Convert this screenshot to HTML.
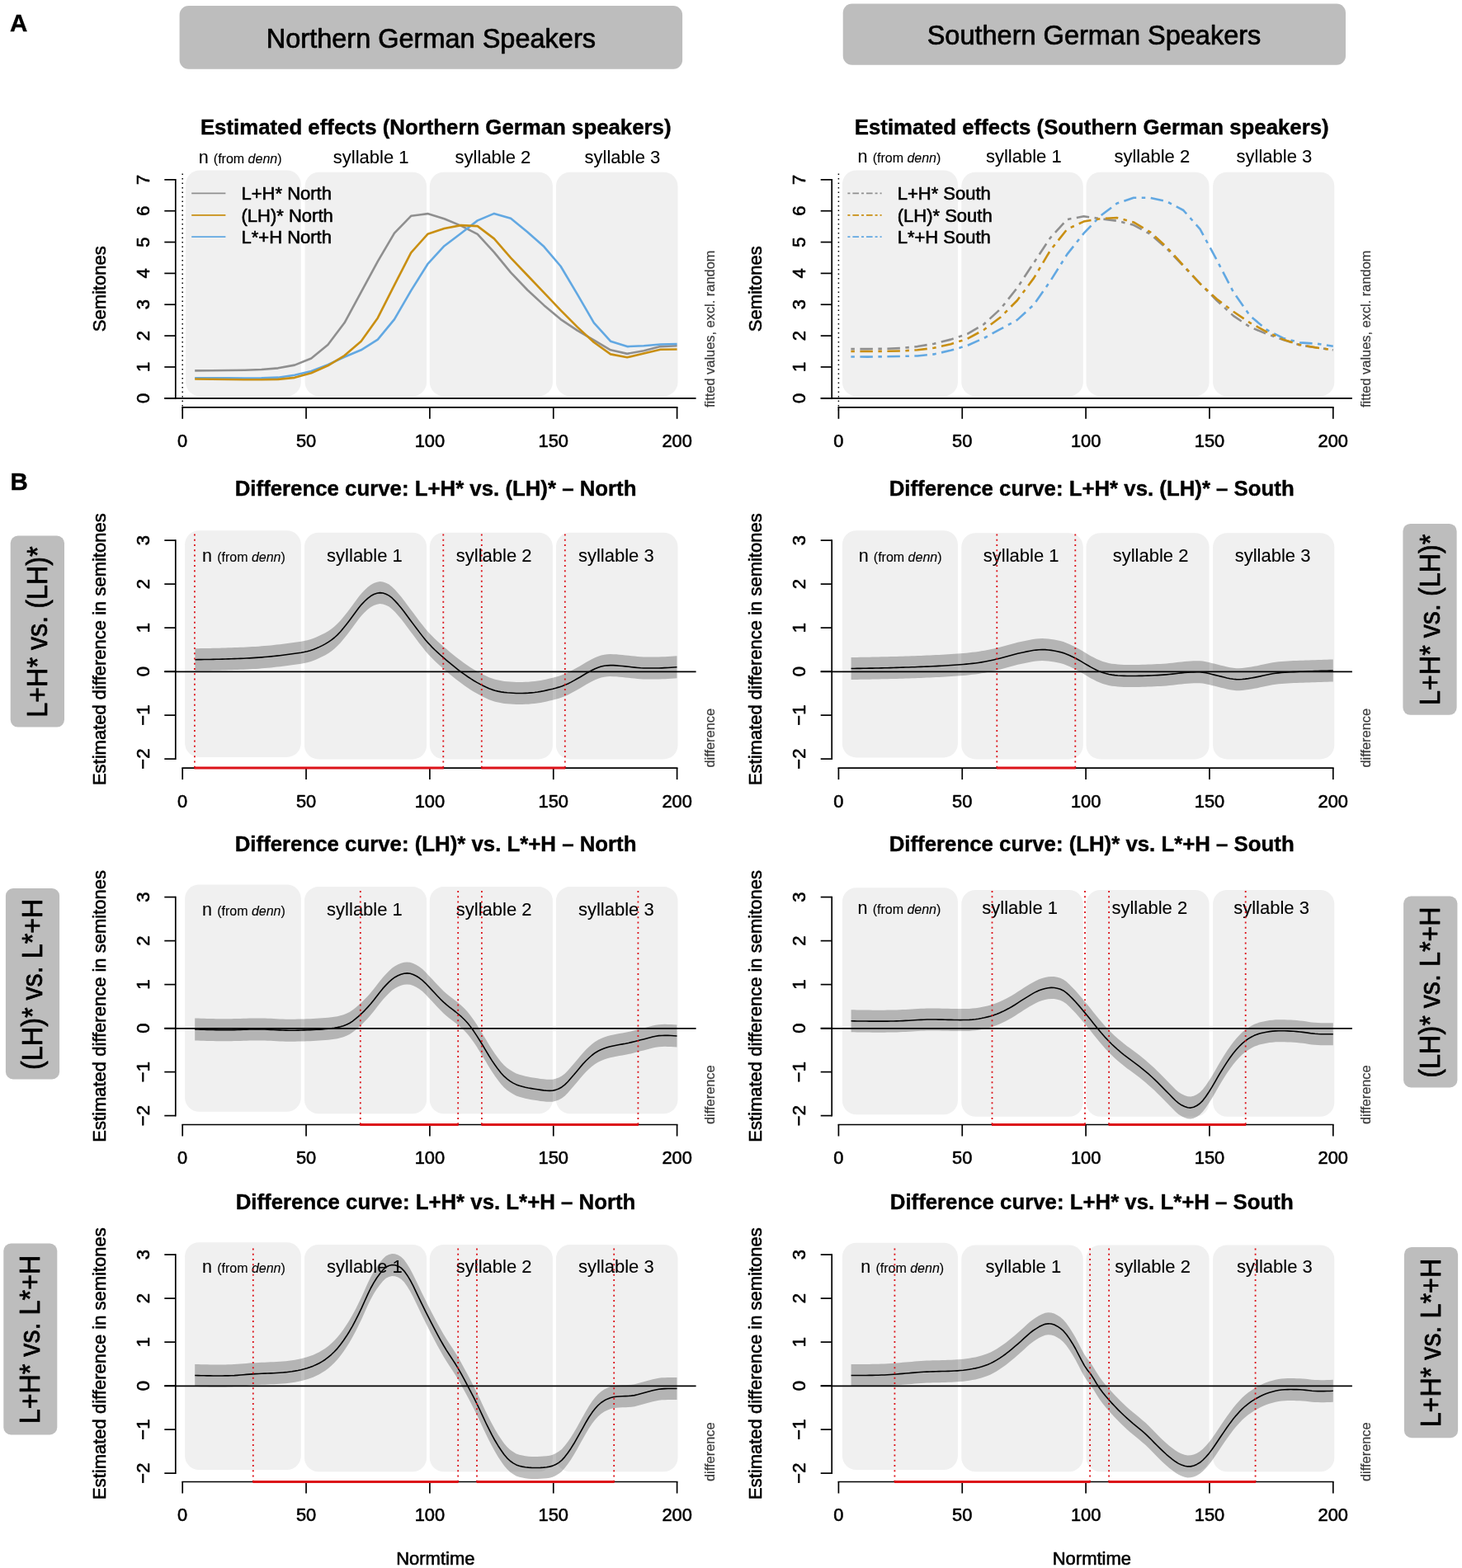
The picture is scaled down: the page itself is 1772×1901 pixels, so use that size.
<!DOCTYPE html>
<html lang="en"><head><meta charset="utf-8"><title>Estimated effects and difference curves</title>
<style>html,body{margin:0;padding:0;background:#fff}body{width:1772px;height:1901px;overflow:hidden}svg{display:block}text{font-family:'Liberation Sans', 'DejaVu Sans', sans-serif;stroke:#000;stroke-width:0.6px;stroke-linejoin:round;paint-order:stroke fill}</style>
</head><body>
<svg width="1772" height="1901" viewBox="0 0 1772 1901" role="img" aria-label="Estimated effects and difference curves for Northern and Southern German speakers">
<rect width="1772" height="1901" fill="#fff"/>
<text transform="translate(11.9 38)" font-size="29.5" text-anchor="start" font-weight="bold" style="stroke-width:0.4px">A</text>
<text transform="translate(12.6 593.5)" font-size="29.5" text-anchor="start" font-weight="bold" style="stroke-width:0.4px">B</text>
<rect x="217.6" y="7.1" width="609.5" height="76.7" rx="11" ry="11" fill="#bdbdbd"/>
<text transform="translate(522.4 57.9)" font-size="32.5" text-anchor="middle" style="stroke-width:0.7px">Northern German Speakers</text>
<rect x="1021.7" y="4.6" width="609.3" height="74.1" rx="11" ry="11" fill="#bdbdbd"/>
<text transform="translate(1326 54.3)" font-size="32.5" text-anchor="middle" style="stroke-width:0.7px">Southern German Speakers</text>
<rect x="225.1" y="206.4" width="139.7" height="273.8" rx="17" ry="17" fill="#f0f0f0"/>
<rect x="369.6" y="208.8" width="147.5" height="271.4" rx="17" ry="17" fill="#f0f0f0"/>
<rect x="520.8" y="208.8" width="149.1" height="271.4" rx="17" ry="17" fill="#f0f0f0"/>
<rect x="673.9" y="208.8" width="147.6" height="271.4" rx="17" ry="17" fill="#f0f0f0"/>
<line x1="221.2" y1="210.5" x2="221.2" y2="497.5" stroke="#000" stroke-width="1.5" stroke-dasharray="1.6 3.9"/>
<polyline points="236.19,449.38 256.34,449.21 276.49,449.04 296.64,448.7 316.79,448.02 336.95,446.33 357.1,442.61 377.25,434.48 397.4,418.06 417.56,391.31 437.71,354.06 457.86,316.82 478.01,282.62 498.16,261.79 518.32,259.09 538.47,265.18 558.62,273.65 578.77,283.8 598.93,305.81 619.08,330.36 639.23,351.52 659.38,370.15 679.53,387.08 699.69,400.62 719.84,412.47 739.99,424.32 760.14,428.89 780.3,425.17 800.45,420.09 820.6,419.24" fill="none" stroke="#8f8f8f" stroke-width="2.6" stroke-linejoin="round"/>
<polyline points="236.19,458.18 256.34,458.18 276.49,458.18 296.64,458.52 316.79,458.35 336.95,457.67 357.1,454.8 377.25,450.06 397.4,442.1 417.56,432.79 437.71,424.32 457.86,411.63 478.01,387.08 498.16,352.37 518.32,320.2 538.47,298.19 558.62,282.96 578.77,267.38 598.93,258.92 619.08,264.84 639.23,281.26 659.38,299.04 679.53,322.74 699.69,356.6 719.84,391.31 739.99,413.66 760.14,420.09 780.3,419.24 800.45,417.55 820.6,417.04" fill="none" stroke="#62a8e2" stroke-width="2.6" stroke-linejoin="round"/>
<polyline points="236.19,459.54 256.34,459.71 276.49,460.05 296.64,460.21 316.79,460.21 336.95,459.88 357.1,457.84 377.25,452.26 397.4,443.28 417.56,431.09 437.71,413.66 457.86,385.38 478.01,345.6 498.16,306.32 518.32,283.8 538.47,277.03 558.62,273.14 578.77,274.15 598.93,289.39 619.08,312.58 639.23,333.75 659.38,354.91 679.53,376.07 699.69,396.39 719.84,415.01 739.99,429.4 760.14,433.3 780.3,428.56 800.45,423.81 820.6,423.48" fill="none" stroke="#c98f12" stroke-width="2.6" stroke-linejoin="round"/>
<line x1="212.8" y1="217" x2="212.8" y2="483.65" stroke="#000" stroke-width="1.7"/>
<line x1="199.3" y1="482.8" x2="212.8" y2="482.8" stroke="#000" stroke-width="1.7"/>
<text transform="translate(180.8 482.8) scale(1.03 1) rotate(-90)" font-size="22" text-anchor="middle">0</text>
<line x1="199.3" y1="444.95" x2="212.8" y2="444.95" stroke="#000" stroke-width="1.7"/>
<text transform="translate(180.8 444.95) scale(1.03 1) rotate(-90)" font-size="22" text-anchor="middle">1</text>
<line x1="199.3" y1="407.1" x2="212.8" y2="407.1" stroke="#000" stroke-width="1.7"/>
<text transform="translate(180.8 407.1) scale(1.03 1) rotate(-90)" font-size="22" text-anchor="middle">2</text>
<line x1="199.3" y1="369.25" x2="212.8" y2="369.25" stroke="#000" stroke-width="1.7"/>
<text transform="translate(180.8 369.25) scale(1.03 1) rotate(-90)" font-size="22" text-anchor="middle">3</text>
<line x1="199.3" y1="331.4" x2="212.8" y2="331.4" stroke="#000" stroke-width="1.7"/>
<text transform="translate(180.8 331.4) scale(1.03 1) rotate(-90)" font-size="22" text-anchor="middle">4</text>
<line x1="199.3" y1="293.55" x2="212.8" y2="293.55" stroke="#000" stroke-width="1.7"/>
<text transform="translate(180.8 293.55) scale(1.03 1) rotate(-90)" font-size="22" text-anchor="middle">5</text>
<line x1="199.3" y1="255.7" x2="212.8" y2="255.7" stroke="#000" stroke-width="1.7"/>
<text transform="translate(180.8 255.7) scale(1.03 1) rotate(-90)" font-size="22" text-anchor="middle">6</text>
<line x1="199.3" y1="217.85" x2="212.8" y2="217.85" stroke="#000" stroke-width="1.7"/>
<text transform="translate(180.8 217.85) scale(1.03 1) rotate(-90)" font-size="22" text-anchor="middle">7</text>
<line x1="199.3" y1="482.95" x2="843.6" y2="482.95" stroke="#000" stroke-width="1.75"/>
<line x1="220.35" y1="493.8" x2="821.45" y2="493.8" stroke="#000" stroke-width="1.7"/>
<line x1="221.2" y1="493.8" x2="221.2" y2="507.8" stroke="#000" stroke-width="1.7"/>
<text transform="translate(221.2 541.7) scale(0.98 1)" font-size="22.3" text-anchor="middle">0</text>
<line x1="371.05" y1="493.8" x2="371.05" y2="507.8" stroke="#000" stroke-width="1.7"/>
<text transform="translate(371.05 541.7) scale(0.98 1)" font-size="22.3" text-anchor="middle">50</text>
<line x1="520.9" y1="493.8" x2="520.9" y2="507.8" stroke="#000" stroke-width="1.7"/>
<text transform="translate(520.9 541.7) scale(0.98 1)" font-size="22.3" text-anchor="middle">100</text>
<line x1="670.75" y1="493.8" x2="670.75" y2="507.8" stroke="#000" stroke-width="1.7"/>
<text transform="translate(670.75 541.7) scale(0.98 1)" font-size="22.3" text-anchor="middle">150</text>
<line x1="820.6" y1="493.8" x2="820.6" y2="507.8" stroke="#000" stroke-width="1.7"/>
<text transform="translate(820.6 541.7) scale(0.98 1)" font-size="22.3" text-anchor="middle">200</text>
<line x1="232.2" y1="234.4" x2="273.4" y2="234.4" stroke="#8f8f8f" stroke-width="1.7"/>
<text transform="translate(292.5 242.3)" font-size="22" text-anchor="start">L+H* North</text>
<line x1="232.2" y1="260.8" x2="273.4" y2="260.8" stroke="#c98f12" stroke-width="1.7"/>
<text transform="translate(292.5 268.7)" font-size="22" text-anchor="start">(LH)* North</text>
<line x1="232.2" y1="287.2" x2="273.4" y2="287.2" stroke="#62a8e2" stroke-width="1.7"/>
<text transform="translate(292.5 295.1)" font-size="22" text-anchor="start">L*+H North</text>
<text transform="translate(528.2 163.4) scale(1.02 1)" font-size="25.3" text-anchor="middle" font-weight="bold" style="stroke-width:0.4px">Estimated effects (Northern German speakers)</text>
<text transform="translate(128.2 350.3) rotate(-90)" font-size="22" text-anchor="middle">Semitones</text>
<text transform="translate(866 494) rotate(-90)" font-size="16.4" text-anchor="start" fill="#3a3a3a" style="stroke:#3a3a3a;stroke-width:0.2px">fitted values, excl. random</text>
<rect x="1020.9" y="206.4" width="140" height="273.8" rx="17" ry="17" fill="#f0f0f0"/>
<rect x="1165.3" y="208.8" width="147.5" height="271.4" rx="17" ry="17" fill="#f0f0f0"/>
<rect x="1316.5" y="208.8" width="149.1" height="271.4" rx="17" ry="17" fill="#f0f0f0"/>
<rect x="1470.1" y="208.8" width="147.2" height="271.4" rx="17" ry="17" fill="#f0f0f0"/>
<line x1="1016.4" y1="210.5" x2="1016.4" y2="497.5" stroke="#000" stroke-width="1.5" stroke-dasharray="1.6 3.9"/>
<polyline points="1031.38,423.14 1051.54,423.14 1071.69,422.8 1091.84,422.12 1111.99,420.09 1132.15,416.7 1152.3,411.63 1172.45,404.85 1192.6,393 1212.76,374.38 1232.91,348.98 1253.06,318.51 1273.21,288.04 1293.36,266.03 1313.52,262.3 1333.67,265.18 1353.82,267.72 1373.97,272.8 1394.13,283.8 1414.28,301.58 1434.43,322.74 1454.58,343.91 1474.73,364.22 1494.89,382.84 1515.04,396.39 1535.19,404.85 1555.34,411.96 1575.5,418.4 1595.65,421.44 1615.8,424.32" fill="none" stroke="#8f8f8f" stroke-width="2.6" stroke-linejoin="round" stroke-dasharray="4.5 6.5 15.5 6.5"/>
<polyline points="1031.38,432.45 1051.54,432.62 1071.69,432.28 1091.84,431.94 1111.99,431.43 1132.15,429.4 1152.3,424.83 1172.45,418.91 1192.6,409.93 1212.76,398.93 1232.91,387.92 1253.06,369.3 1273.21,340.52 1293.36,308.35 1313.52,282.96 1333.67,261.79 1353.82,246.56 1373.97,239.79 1394.13,239.79 1414.28,244.36 1434.43,255.02 1454.58,277.88 1474.73,315.12 1494.89,354.06 1515.04,382.84 1535.19,399.77 1555.34,409.93 1575.5,415.35 1595.65,416.7 1615.8,419.75" fill="none" stroke="#62a8e2" stroke-width="2.6" stroke-linejoin="round" stroke-dasharray="4.5 6.5 15.5 6.5"/>
<polyline points="1031.38,426.02 1051.54,426.02 1071.69,425.85 1091.84,425.51 1111.99,424.32 1132.15,421.78 1152.3,417.21 1172.45,410.78 1192.6,399.77 1212.76,384.54 1232.91,364.22 1253.06,337.13 1273.21,303.27 1293.36,277.88 1313.52,268.57 1333.67,265.18 1353.82,264 1373.97,269.41 1394.13,281.26 1414.28,299.89 1434.43,321.9 1454.58,343.91 1474.73,362.53 1494.89,377.77 1515.04,391.31 1535.19,402.31 1555.34,411.63 1575.5,418.06 1595.65,421.44 1615.8,424.32" fill="none" stroke="#c98f12" stroke-width="2.6" stroke-linejoin="round" stroke-dasharray="4.5 6.5 15.5 6.5"/>
<line x1="1008.2" y1="217" x2="1008.2" y2="483.65" stroke="#000" stroke-width="1.7"/>
<line x1="994.7" y1="482.8" x2="1008.2" y2="482.8" stroke="#000" stroke-width="1.7"/>
<text transform="translate(976 482.8) scale(1.03 1) rotate(-90)" font-size="22" text-anchor="middle">0</text>
<line x1="994.7" y1="444.95" x2="1008.2" y2="444.95" stroke="#000" stroke-width="1.7"/>
<text transform="translate(976 444.95) scale(1.03 1) rotate(-90)" font-size="22" text-anchor="middle">1</text>
<line x1="994.7" y1="407.1" x2="1008.2" y2="407.1" stroke="#000" stroke-width="1.7"/>
<text transform="translate(976 407.1) scale(1.03 1) rotate(-90)" font-size="22" text-anchor="middle">2</text>
<line x1="994.7" y1="369.25" x2="1008.2" y2="369.25" stroke="#000" stroke-width="1.7"/>
<text transform="translate(976 369.25) scale(1.03 1) rotate(-90)" font-size="22" text-anchor="middle">3</text>
<line x1="994.7" y1="331.4" x2="1008.2" y2="331.4" stroke="#000" stroke-width="1.7"/>
<text transform="translate(976 331.4) scale(1.03 1) rotate(-90)" font-size="22" text-anchor="middle">4</text>
<line x1="994.7" y1="293.55" x2="1008.2" y2="293.55" stroke="#000" stroke-width="1.7"/>
<text transform="translate(976 293.55) scale(1.03 1) rotate(-90)" font-size="22" text-anchor="middle">5</text>
<line x1="994.7" y1="255.7" x2="1008.2" y2="255.7" stroke="#000" stroke-width="1.7"/>
<text transform="translate(976 255.7) scale(1.03 1) rotate(-90)" font-size="22" text-anchor="middle">6</text>
<line x1="994.7" y1="217.85" x2="1008.2" y2="217.85" stroke="#000" stroke-width="1.7"/>
<text transform="translate(976 217.85) scale(1.03 1) rotate(-90)" font-size="22" text-anchor="middle">7</text>
<line x1="994.7" y1="482.95" x2="1638.9" y2="482.95" stroke="#000" stroke-width="1.75"/>
<line x1="1015.55" y1="493.8" x2="1616.65" y2="493.8" stroke="#000" stroke-width="1.7"/>
<line x1="1016.4" y1="493.8" x2="1016.4" y2="507.8" stroke="#000" stroke-width="1.7"/>
<text transform="translate(1016.4 541.7) scale(0.98 1)" font-size="22.3" text-anchor="middle">0</text>
<line x1="1166.25" y1="493.8" x2="1166.25" y2="507.8" stroke="#000" stroke-width="1.7"/>
<text transform="translate(1166.25 541.7) scale(0.98 1)" font-size="22.3" text-anchor="middle">50</text>
<line x1="1316.1" y1="493.8" x2="1316.1" y2="507.8" stroke="#000" stroke-width="1.7"/>
<text transform="translate(1316.1 541.7) scale(0.98 1)" font-size="22.3" text-anchor="middle">100</text>
<line x1="1465.95" y1="493.8" x2="1465.95" y2="507.8" stroke="#000" stroke-width="1.7"/>
<text transform="translate(1465.95 541.7) scale(0.98 1)" font-size="22.3" text-anchor="middle">150</text>
<line x1="1615.8" y1="493.8" x2="1615.8" y2="507.8" stroke="#000" stroke-width="1.7"/>
<text transform="translate(1615.8 541.7) scale(0.98 1)" font-size="22.3" text-anchor="middle">200</text>
<line x1="1027.4" y1="234.4" x2="1068.6" y2="234.4" stroke="#8f8f8f" stroke-width="1.7" stroke-dasharray="3 3 7.6 3"/>
<text transform="translate(1087.7 242.3)" font-size="22" text-anchor="start">L+H* South</text>
<line x1="1027.4" y1="260.8" x2="1068.6" y2="260.8" stroke="#c98f12" stroke-width="1.7" stroke-dasharray="3 3 7.6 3"/>
<text transform="translate(1087.7 268.7)" font-size="22" text-anchor="start">(LH)* South</text>
<line x1="1027.4" y1="287.2" x2="1068.6" y2="287.2" stroke="#62a8e2" stroke-width="1.7" stroke-dasharray="3 3 7.6 3"/>
<text transform="translate(1087.7 295.1)" font-size="22" text-anchor="start">L*+H South</text>
<text transform="translate(1323.2 163.4) scale(1.02 1)" font-size="25.3" text-anchor="middle" font-weight="bold" style="stroke-width:0.4px">Estimated effects (Southern German speakers)</text>
<text transform="translate(923.2 350.3) rotate(-90)" font-size="22" text-anchor="middle">Semitones</text>
<text transform="translate(1661.3 494) rotate(-90)" font-size="16.4" text-anchor="start" fill="#3a3a3a" style="stroke:#3a3a3a;stroke-width:0.2px">fitted values, excl. random</text>
<text x="240.7" y="198" font-size="21.5" text-anchor="start" style="stroke-width:0.1px">n <tspan dx="0.2" font-size="16">(from <tspan font-style="italic">denn</tspan>)</tspan></text>
<text transform="translate(403.8 198)" font-size="22" text-anchor="start" style="stroke-width:0.1px">syllable 1</text>
<text transform="translate(551.6 198)" font-size="22" text-anchor="start" style="stroke-width:0.1px">syllable 2</text>
<text transform="translate(708.5 198)" font-size="22" text-anchor="start" style="stroke-width:0.1px">syllable 3</text>
<text x="1039.5" y="196.8" font-size="21.5" text-anchor="start" style="stroke-width:0.1px">n <tspan dx="0.2" font-size="16">(from <tspan font-style="italic">denn</tspan>)</tspan></text>
<text transform="translate(1194.9 196.8)" font-size="22" text-anchor="start" style="stroke-width:0.1px">syllable 1</text>
<text transform="translate(1350.4 196.8)" font-size="22" text-anchor="start" style="stroke-width:0.1px">syllable 2</text>
<text transform="translate(1498.5 196.8)" font-size="22" text-anchor="start" style="stroke-width:0.1px">syllable 3</text>
<rect x="224.1" y="643.3" width="140.7" height="274.6" rx="17" ry="17" fill="#f0f0f0"/>
<rect x="369" y="645.8" width="148.1" height="274.6" rx="17" ry="17" fill="#f0f0f0"/>
<rect x="520.8" y="645.8" width="149.1" height="274.6" rx="17" ry="17" fill="#f0f0f0"/>
<rect x="673.9" y="645.8" width="147.6" height="274.6" rx="17" ry="17" fill="#f0f0f0"/>
<text x="245" y="681.4" font-size="21.5" text-anchor="start" style="stroke-width:0.1px">n <tspan dx="0.2" font-size="16">(from <tspan font-style="italic">denn</tspan>)</tspan></text>
<text transform="translate(396.1 681.4)" font-size="22" text-anchor="start" style="stroke-width:0.1px">syllable 1</text>
<text transform="translate(552.8 681.4)" font-size="22" text-anchor="start" style="stroke-width:0.1px">syllable 2</text>
<text transform="translate(700.9 681.4)" font-size="22" text-anchor="start" style="stroke-width:0.1px">syllable 3</text>
<polygon points="236.4,786.2 240.07,786.16 243.75,786.12 247.42,786.06 251.09,786 254.77,785.93 258.44,785.85 262.12,785.77 265.79,785.68 269.46,785.58 273.14,785.47 276.81,785.36 280.48,785.25 284.16,785.12 287.83,785 291.5,784.85 295.18,784.7 298.85,784.52 302.52,784.33 306.2,784.11 309.87,783.88 313.55,783.63 317.22,783.35 320.89,783.06 324.57,782.74 328.24,782.39 331.91,782.01 335.59,781.6 339.26,781.17 342.93,780.72 346.61,780.26 350.28,779.78 353.95,779.29 357.63,778.8 361.3,778.29 364.98,777.72 368.65,777.04 372.32,776.22 376,775.19 379.67,773.94 383.34,772.49 387.02,770.87 390.69,769.12 394.36,767.15 398.04,764.93 401.71,762.39 405.38,759.5 409.06,756.12 412.73,752.17 416.41,747.79 420.08,743.17 423.75,738.46 427.43,733.52 431.1,728.45 434.77,723.54 438.45,719.08 442.12,715.26 445.79,711.85 449.47,709.02 453.14,706.99 456.82,705.73 460.49,705.12 464.16,705.46 467.84,706.7 471.51,708.59 475.18,711.45 478.86,715.1 482.53,719.15 486.2,723.51 489.88,728.26 493.55,733.22 497.22,738.22 500.9,743.12 504.57,748.02 508.25,752.88 511.92,757.62 515.59,762.15 519.27,766.39 522.94,770.31 526.61,773.96 530.29,777.41 533.96,780.72 537.63,783.94 541.31,787.1 544.98,790.2 548.65,793.21 552.33,796.15 556,799.01 559.68,801.78 563.35,804.46 567.02,807.02 570.7,809.43 574.37,811.7 578.04,813.85 581.72,815.87 585.39,817.75 589.06,819.55 592.74,821.22 596.41,822.62 600.08,823.72 603.76,824.62 607.43,825.34 611.11,825.88 614.78,826.26 618.45,826.55 622.13,826.78 625.8,826.93 629.47,827 633.15,826.97 636.82,826.85 640.49,826.65 644.17,826.36 647.84,826.01 651.52,825.52 655.19,824.9 658.86,824.18 662.54,823.4 666.21,822.58 669.88,821.7 673.56,820.73 677.23,819.64 680.9,818.42 684.58,817.05 688.25,815.44 691.92,813.6 695.6,811.62 699.27,809.57 702.95,807.45 706.62,805.24 710.29,803.05 713.97,800.99 717.64,799.06 721.31,797.24 724.99,795.69 728.66,794.59 732.33,793.83 736.01,793.33 739.68,793.11 743.35,793.15 747.03,793.36 750.7,793.68 754.38,794.04 758.05,794.4 761.72,794.78 765.4,795.19 769.07,795.58 772.74,795.93 776.42,796.23 780.09,796.43 783.76,796.52 787.44,796.56 791.11,796.56 794.78,796.52 798.46,796.44 802.13,796.33 805.81,796.17 809.48,795.99 813.15,795.76 816.83,795.5 820.5,795.2 820.5,822.2 816.83,822.5 813.15,822.76 809.48,822.99 805.81,823.17 802.13,823.33 798.46,823.44 794.78,823.52 791.11,823.56 787.44,823.56 783.76,823.52 780.09,823.43 776.42,823.23 772.74,822.93 769.07,822.58 765.4,822.19 761.72,821.78 758.05,821.4 754.38,821.04 750.7,820.68 747.03,820.36 743.35,820.15 739.68,820.11 736.01,820.33 732.33,820.83 728.66,821.59 724.99,822.69 721.31,824.24 717.64,826.06 713.97,827.99 710.29,830.05 706.62,832.24 702.95,834.45 699.27,836.57 695.6,838.62 691.92,840.6 688.25,842.44 684.58,844.05 680.9,845.42 677.23,846.64 673.56,847.73 669.88,848.7 666.21,849.58 662.54,850.4 658.86,851.18 655.19,851.9 651.52,852.52 647.84,853.01 644.17,853.36 640.49,853.65 636.82,853.85 633.15,853.97 629.47,854 625.8,853.93 622.13,853.78 618.45,853.55 614.78,853.26 611.11,852.88 607.43,852.34 603.76,851.62 600.08,850.72 596.41,849.62 592.74,848.22 589.06,846.55 585.39,844.75 581.72,842.87 578.04,840.85 574.37,838.7 570.7,836.43 567.02,834.02 563.35,831.46 559.68,828.78 556,826.01 552.33,823.15 548.65,820.21 544.98,817.2 541.31,814.1 537.63,810.94 533.96,807.72 530.29,804.41 526.61,800.96 522.94,797.31 519.27,793.39 515.59,789.15 511.92,784.62 508.25,779.88 504.57,775.02 500.9,770.12 497.22,765.22 493.55,760.22 489.88,755.26 486.2,750.51 482.53,746.15 478.86,742.1 475.18,738.45 471.51,735.59 467.84,733.7 464.16,732.46 460.49,732.12 456.82,732.73 453.14,733.99 449.47,736.02 445.79,738.85 442.12,742.26 438.45,746.08 434.77,750.54 431.1,755.45 427.43,760.52 423.75,765.46 420.08,770.17 416.41,774.79 412.73,779.17 409.06,783.12 405.38,786.5 401.71,789.39 398.04,791.93 394.36,794.15 390.69,796.12 387.02,797.87 383.34,799.49 379.67,800.94 376,802.19 372.32,803.22 368.65,804.04 364.98,804.72 361.3,805.29 357.63,805.8 353.95,806.29 350.28,806.78 346.61,807.26 342.93,807.72 339.26,808.17 335.59,808.6 331.91,809.01 328.24,809.39 324.57,809.74 320.89,810.06 317.22,810.35 313.55,810.63 309.87,810.88 306.2,811.11 302.52,811.33 298.85,811.52 295.18,811.7 291.5,811.85 287.83,812 284.16,812.12 280.48,812.25 276.81,812.36 273.14,812.47 269.46,812.58 265.79,812.68 262.12,812.77 258.44,812.85 254.77,812.93 251.09,813 247.42,813.06 243.75,813.12 240.07,813.16 236.4,813.2" fill="#000" fill-opacity="0.25"/>
<polyline points="236.4,799.7 240.07,799.66 243.75,799.62 247.42,799.56 251.09,799.5 254.77,799.43 258.44,799.35 262.12,799.27 265.79,799.18 269.46,799.08 273.14,798.97 276.81,798.86 280.48,798.75 284.16,798.62 287.83,798.5 291.5,798.35 295.18,798.2 298.85,798.02 302.52,797.83 306.2,797.61 309.87,797.38 313.55,797.13 317.22,796.85 320.89,796.56 324.57,796.24 328.24,795.89 331.91,795.51 335.59,795.1 339.26,794.67 342.93,794.22 346.61,793.76 350.28,793.28 353.95,792.79 357.63,792.3 361.3,791.79 364.98,791.22 368.65,790.54 372.32,789.72 376,788.69 379.67,787.44 383.34,785.99 387.02,784.37 390.69,782.62 394.36,780.65 398.04,778.43 401.71,775.89 405.38,773 409.06,769.62 412.73,765.67 416.41,761.29 420.08,756.67 423.75,751.96 427.43,747.02 431.1,741.95 434.77,737.04 438.45,732.58 442.12,728.76 445.79,725.35 449.47,722.52 453.14,720.49 456.82,719.23 460.49,718.62 464.16,718.96 467.84,720.2 471.51,722.09 475.18,724.95 478.86,728.6 482.53,732.65 486.2,737.01 489.88,741.76 493.55,746.72 497.22,751.72 500.9,756.62 504.57,761.52 508.25,766.38 511.92,771.12 515.59,775.65 519.27,779.89 522.94,783.81 526.61,787.46 530.29,790.91 533.96,794.22 537.63,797.44 541.31,800.6 544.98,803.7 548.65,806.71 552.33,809.65 556,812.51 559.68,815.28 563.35,817.96 567.02,820.52 570.7,822.93 574.37,825.2 578.04,827.35 581.72,829.37 585.39,831.25 589.06,833.05 592.74,834.72 596.41,836.12 600.08,837.22 603.76,838.12 607.43,838.84 611.11,839.38 614.78,839.76 618.45,840.05 622.13,840.28 625.8,840.43 629.47,840.5 633.15,840.47 636.82,840.35 640.49,840.15 644.17,839.86 647.84,839.51 651.52,839.02 655.19,838.4 658.86,837.68 662.54,836.9 666.21,836.08 669.88,835.2 673.56,834.23 677.23,833.14 680.9,831.92 684.58,830.55 688.25,828.94 691.92,827.1 695.6,825.12 699.27,823.07 702.95,820.95 706.62,818.74 710.29,816.55 713.97,814.49 717.64,812.56 721.31,810.74 724.99,809.19 728.66,808.09 732.33,807.33 736.01,806.83 739.68,806.61 743.35,806.65 747.03,806.86 750.7,807.18 754.38,807.54 758.05,807.9 761.72,808.28 765.4,808.69 769.07,809.08 772.74,809.43 776.42,809.73 780.09,809.93 783.76,810.02 787.44,810.06 791.11,810.06 794.78,810.02 798.46,809.94 802.13,809.83 805.81,809.67 809.48,809.49 813.15,809.26 816.83,809 820.5,808.7" fill="none" stroke="#000" stroke-width="1.6" stroke-linejoin="round"/>
<line x1="212.8" y1="654.25" x2="212.8" y2="920.95" stroke="#000" stroke-width="1.7"/>
<line x1="199.3" y1="920.1" x2="212.8" y2="920.1" stroke="#000" stroke-width="1.7"/>
<text transform="translate(180.8 920.1) scale(1.03 1) rotate(-90)" font-size="22" text-anchor="middle">−2</text>
<line x1="199.3" y1="867.1" x2="212.8" y2="867.1" stroke="#000" stroke-width="1.7"/>
<text transform="translate(180.8 867.1) scale(1.03 1) rotate(-90)" font-size="22" text-anchor="middle">−1</text>
<line x1="199.3" y1="814.1" x2="212.8" y2="814.1" stroke="#000" stroke-width="1.7"/>
<text transform="translate(180.8 814.1) scale(1.03 1) rotate(-90)" font-size="22" text-anchor="middle">0</text>
<line x1="199.3" y1="761.1" x2="212.8" y2="761.1" stroke="#000" stroke-width="1.7"/>
<text transform="translate(180.8 761.1) scale(1.03 1) rotate(-90)" font-size="22" text-anchor="middle">1</text>
<line x1="199.3" y1="708.1" x2="212.8" y2="708.1" stroke="#000" stroke-width="1.7"/>
<text transform="translate(180.8 708.1) scale(1.03 1) rotate(-90)" font-size="22" text-anchor="middle">2</text>
<line x1="199.3" y1="655.1" x2="212.8" y2="655.1" stroke="#000" stroke-width="1.7"/>
<text transform="translate(180.8 655.1) scale(1.03 1) rotate(-90)" font-size="22" text-anchor="middle">3</text>
<line x1="199.3" y1="814.25" x2="843.6" y2="814.25" stroke="#000" stroke-width="1.75"/>
<line x1="220.35" y1="931.1" x2="821.45" y2="931.1" stroke="#000" stroke-width="1.7"/>
<line x1="221.2" y1="931.1" x2="221.2" y2="945.1" stroke="#000" stroke-width="1.7"/>
<text transform="translate(221.2 979) scale(0.98 1)" font-size="22.3" text-anchor="middle">0</text>
<line x1="371.05" y1="931.1" x2="371.05" y2="945.1" stroke="#000" stroke-width="1.7"/>
<text transform="translate(371.05 979) scale(0.98 1)" font-size="22.3" text-anchor="middle">50</text>
<line x1="520.9" y1="931.1" x2="520.9" y2="945.1" stroke="#000" stroke-width="1.7"/>
<text transform="translate(520.9 979) scale(0.98 1)" font-size="22.3" text-anchor="middle">100</text>
<line x1="670.75" y1="931.1" x2="670.75" y2="945.1" stroke="#000" stroke-width="1.7"/>
<text transform="translate(670.75 979) scale(0.98 1)" font-size="22.3" text-anchor="middle">150</text>
<line x1="820.6" y1="931.1" x2="820.6" y2="945.1" stroke="#000" stroke-width="1.7"/>
<text transform="translate(820.6 979) scale(0.98 1)" font-size="22.3" text-anchor="middle">200</text>
<line x1="235.9" y1="647.6" x2="235.9" y2="931.1" stroke="#dc1219" stroke-width="1.8" stroke-dasharray="1.9 4.35"/>
<line x1="537.3" y1="647.6" x2="537.3" y2="931.1" stroke="#dc1219" stroke-width="1.8" stroke-dasharray="1.9 4.35"/>
<line x1="235.4" y1="931.1" x2="537.8" y2="931.1" stroke="#dc1219" stroke-width="3"/>
<line x1="583.8" y1="647.6" x2="583.8" y2="931.1" stroke="#dc1219" stroke-width="1.8" stroke-dasharray="1.9 4.35"/>
<line x1="684.8" y1="647.6" x2="684.8" y2="931.1" stroke="#dc1219" stroke-width="1.8" stroke-dasharray="1.9 4.35"/>
<line x1="583.3" y1="931.1" x2="685.3" y2="931.1" stroke="#dc1219" stroke-width="3"/>
<text transform="translate(528.1 600.6) scale(1.02 1)" font-size="25.3" text-anchor="middle" font-weight="bold" style="stroke-width:0.4px">Difference curve: L+H* vs. (LH)* – North</text>
<text transform="translate(128.2 787.2) rotate(-90)" font-size="22" text-anchor="middle">Estimated difference in semitones</text>
<text transform="translate(866 930.6) rotate(-90)" font-size="16.4" text-anchor="start" fill="#3a3a3a" style="stroke:#3a3a3a;stroke-width:0.2px">difference</text>
<rect x="12.7" y="649.6" width="65.3" height="232" rx="9" ry="9" fill="#bdbdbd"/>
<text transform="translate(56.95 766.1) scale(1.08 1) rotate(-90)" font-size="32.3" text-anchor="middle" style="stroke-width:0.7px">L+H* vs. (LH)*</text>
<rect x="1020.9" y="643.3" width="140" height="275.1" rx="17" ry="17" fill="#f0f0f0"/>
<rect x="1165.3" y="646.3" width="147.5" height="274.1" rx="17" ry="17" fill="#f0f0f0"/>
<rect x="1316.5" y="646.3" width="149.1" height="274.1" rx="17" ry="17" fill="#f0f0f0"/>
<rect x="1470.1" y="646.3" width="147.2" height="274.1" rx="17" ry="17" fill="#f0f0f0"/>
<text x="1040.7" y="680.7" font-size="21.5" text-anchor="start" style="stroke-width:0.1px">n <tspan dx="0.2" font-size="16">(from <tspan font-style="italic">denn</tspan>)</tspan></text>
<text transform="translate(1191.8 680.7)" font-size="22" text-anchor="start" style="stroke-width:0.1px">syllable 1</text>
<text transform="translate(1348.7 680.7)" font-size="22" text-anchor="start" style="stroke-width:0.1px">syllable 2</text>
<text transform="translate(1496.7 680.7)" font-size="22" text-anchor="start" style="stroke-width:0.1px">syllable 3</text>
<polygon points="1031.6,797 1035.27,796.95 1038.95,796.9 1042.62,796.85 1046.3,796.79 1049.97,796.73 1053.65,796.66 1057.32,796.59 1060.99,796.51 1064.67,796.44 1068.34,796.35 1072.02,796.27 1075.69,796.18 1079.36,796.08 1083.04,795.98 1086.71,795.88 1090.39,795.78 1094.06,795.67 1097.74,795.55 1101.41,795.44 1105.08,795.32 1108.76,795.19 1112.43,795.06 1116.11,794.92 1119.78,794.78 1123.46,794.62 1127.13,794.46 1130.8,794.28 1134.48,794.1 1138.15,793.91 1141.83,793.7 1145.5,793.49 1149.17,793.27 1152.85,793.04 1156.52,792.79 1160.2,792.54 1163.87,792.26 1167.55,791.96 1171.22,791.64 1174.89,791.27 1178.57,790.87 1182.24,790.43 1185.92,789.93 1189.59,789.35 1193.27,788.71 1196.94,787.99 1200.61,787.23 1204.29,786.42 1207.96,785.58 1211.64,784.69 1215.31,783.73 1218.98,782.72 1222.66,781.7 1226.33,780.69 1230.01,779.72 1233.68,778.81 1237.36,777.99 1241.03,777.18 1244.7,776.4 1248.38,775.69 1252.05,775.07 1255.73,774.58 1259.4,774.25 1263.08,774.1 1266.75,774.17 1270.42,774.43 1274.1,774.88 1277.77,775.49 1281.45,776.23 1285.12,777.1 1288.79,778.12 1292.47,779.43 1296.14,780.97 1299.82,782.68 1303.49,784.5 1307.17,786.48 1310.84,788.62 1314.51,790.84 1318.19,793.04 1321.86,795.13 1325.54,797.1 1329.21,798.97 1332.89,800.61 1336.56,801.94 1340.23,803.06 1343.91,803.97 1347.58,804.63 1351.26,805.11 1354.93,805.48 1358.61,805.75 1362.28,805.89 1365.95,805.95 1369.63,805.98 1373.3,805.98 1376.98,805.96 1380.65,805.91 1384.32,805.83 1388,805.73 1391.67,805.61 1395.35,805.46 1399.02,805.29 1402.7,805.1 1406.37,804.89 1410.04,804.66 1413.72,804.38 1417.39,804.03 1421.07,803.63 1424.74,803.2 1428.42,802.78 1432.09,802.38 1435.76,802.04 1439.44,801.76 1443.11,801.51 1446.79,801.33 1450.46,801.25 1454.13,801.3 1457.81,801.62 1461.48,802.23 1465.16,803.03 1468.83,803.93 1472.51,804.85 1476.18,805.72 1479.85,806.64 1483.53,807.57 1487.2,808.45 1490.88,809.22 1494.55,809.8 1498.23,810.14 1501.9,810.19 1505.57,810 1509.25,809.62 1512.92,809.11 1516.6,808.51 1520.27,807.87 1523.94,807.16 1527.62,806.37 1531.29,805.53 1534.97,804.71 1538.64,803.93 1542.32,803.26 1545.99,802.74 1549.66,802.33 1553.34,801.99 1557.01,801.7 1560.69,801.47 1564.36,801.27 1568.04,801.1 1571.71,800.95 1575.38,800.82 1579.06,800.69 1582.73,800.55 1586.41,800.42 1590.08,800.29 1593.75,800.16 1597.43,800.04 1601.1,799.92 1604.78,799.8 1608.45,799.7 1612.13,799.59 1615.8,799.5 1615.8,826.5 1612.13,826.59 1608.45,826.7 1604.78,826.8 1601.1,826.92 1597.43,827.04 1593.75,827.16 1590.08,827.29 1586.41,827.42 1582.73,827.55 1579.06,827.69 1575.38,827.82 1571.71,827.95 1568.04,828.1 1564.36,828.27 1560.69,828.47 1557.01,828.7 1553.34,828.99 1549.66,829.33 1545.99,829.74 1542.32,830.26 1538.64,830.93 1534.97,831.71 1531.29,832.53 1527.62,833.37 1523.94,834.16 1520.27,834.87 1516.6,835.51 1512.92,836.11 1509.25,836.62 1505.57,837 1501.9,837.19 1498.23,837.14 1494.55,836.8 1490.88,836.22 1487.2,835.45 1483.53,834.57 1479.85,833.64 1476.18,832.72 1472.51,831.85 1468.83,830.93 1465.16,830.03 1461.48,829.23 1457.81,828.62 1454.13,828.3 1450.46,828.25 1446.79,828.33 1443.11,828.51 1439.44,828.76 1435.76,829.04 1432.09,829.38 1428.42,829.78 1424.74,830.2 1421.07,830.63 1417.39,831.03 1413.72,831.38 1410.04,831.66 1406.37,831.89 1402.7,832.1 1399.02,832.29 1395.35,832.46 1391.67,832.61 1388,832.73 1384.32,832.83 1380.65,832.91 1376.98,832.96 1373.3,832.98 1369.63,832.98 1365.95,832.95 1362.28,832.89 1358.61,832.75 1354.93,832.48 1351.26,832.11 1347.58,831.63 1343.91,830.97 1340.23,830.06 1336.56,828.94 1332.89,827.61 1329.21,825.97 1325.54,824.1 1321.86,822.13 1318.19,820.04 1314.51,817.84 1310.84,815.62 1307.17,813.48 1303.49,811.5 1299.82,809.68 1296.14,807.97 1292.47,806.43 1288.79,805.12 1285.12,804.1 1281.45,803.23 1277.77,802.49 1274.1,801.88 1270.42,801.43 1266.75,801.17 1263.08,801.1 1259.4,801.25 1255.73,801.58 1252.05,802.07 1248.38,802.69 1244.7,803.4 1241.03,804.18 1237.36,804.99 1233.68,805.81 1230.01,806.72 1226.33,807.69 1222.66,808.7 1218.98,809.72 1215.31,810.73 1211.64,811.69 1207.96,812.58 1204.29,813.42 1200.61,814.23 1196.94,814.99 1193.27,815.71 1189.59,816.35 1185.92,816.93 1182.24,817.43 1178.57,817.87 1174.89,818.27 1171.22,818.64 1167.55,818.96 1163.87,819.26 1160.2,819.54 1156.52,819.79 1152.85,820.04 1149.17,820.27 1145.5,820.49 1141.83,820.7 1138.15,820.91 1134.48,821.1 1130.8,821.28 1127.13,821.46 1123.46,821.62 1119.78,821.78 1116.11,821.92 1112.43,822.06 1108.76,822.19 1105.08,822.32 1101.41,822.44 1097.74,822.55 1094.06,822.67 1090.39,822.78 1086.71,822.88 1083.04,822.98 1079.36,823.08 1075.69,823.18 1072.02,823.27 1068.34,823.35 1064.67,823.44 1060.99,823.51 1057.32,823.59 1053.65,823.66 1049.97,823.73 1046.3,823.79 1042.62,823.85 1038.95,823.9 1035.27,823.95 1031.6,824" fill="#000" fill-opacity="0.25"/>
<polyline points="1031.6,810.5 1035.27,810.45 1038.95,810.4 1042.62,810.35 1046.3,810.29 1049.97,810.23 1053.65,810.16 1057.32,810.09 1060.99,810.01 1064.67,809.94 1068.34,809.85 1072.02,809.77 1075.69,809.68 1079.36,809.58 1083.04,809.48 1086.71,809.38 1090.39,809.28 1094.06,809.17 1097.74,809.05 1101.41,808.94 1105.08,808.82 1108.76,808.69 1112.43,808.56 1116.11,808.42 1119.78,808.28 1123.46,808.12 1127.13,807.96 1130.8,807.78 1134.48,807.6 1138.15,807.41 1141.83,807.2 1145.5,806.99 1149.17,806.77 1152.85,806.54 1156.52,806.29 1160.2,806.04 1163.87,805.76 1167.55,805.46 1171.22,805.14 1174.89,804.77 1178.57,804.37 1182.24,803.93 1185.92,803.43 1189.59,802.85 1193.27,802.21 1196.94,801.49 1200.61,800.73 1204.29,799.92 1207.96,799.08 1211.64,798.19 1215.31,797.23 1218.98,796.22 1222.66,795.2 1226.33,794.19 1230.01,793.22 1233.68,792.31 1237.36,791.49 1241.03,790.68 1244.7,789.9 1248.38,789.19 1252.05,788.57 1255.73,788.08 1259.4,787.75 1263.08,787.6 1266.75,787.67 1270.42,787.93 1274.1,788.38 1277.77,788.99 1281.45,789.73 1285.12,790.6 1288.79,791.62 1292.47,792.93 1296.14,794.47 1299.82,796.18 1303.49,798 1307.17,799.98 1310.84,802.12 1314.51,804.34 1318.19,806.54 1321.86,808.63 1325.54,810.6 1329.21,812.47 1332.89,814.11 1336.56,815.44 1340.23,816.56 1343.91,817.47 1347.58,818.13 1351.26,818.61 1354.93,818.98 1358.61,819.25 1362.28,819.39 1365.95,819.45 1369.63,819.48 1373.3,819.48 1376.98,819.46 1380.65,819.41 1384.32,819.33 1388,819.23 1391.67,819.11 1395.35,818.96 1399.02,818.79 1402.7,818.6 1406.37,818.39 1410.04,818.16 1413.72,817.88 1417.39,817.53 1421.07,817.13 1424.74,816.7 1428.42,816.28 1432.09,815.88 1435.76,815.54 1439.44,815.26 1443.11,815.01 1446.79,814.83 1450.46,814.75 1454.13,814.8 1457.81,815.12 1461.48,815.73 1465.16,816.53 1468.83,817.43 1472.51,818.35 1476.18,819.22 1479.85,820.14 1483.53,821.07 1487.2,821.95 1490.88,822.72 1494.55,823.3 1498.23,823.64 1501.9,823.69 1505.57,823.5 1509.25,823.12 1512.92,822.61 1516.6,822.01 1520.27,821.37 1523.94,820.66 1527.62,819.87 1531.29,819.03 1534.97,818.21 1538.64,817.43 1542.32,816.76 1545.99,816.24 1549.66,815.83 1553.34,815.49 1557.01,815.2 1560.69,814.97 1564.36,814.77 1568.04,814.6 1571.71,814.45 1575.38,814.32 1579.06,814.19 1582.73,814.05 1586.41,813.92 1590.08,813.79 1593.75,813.66 1597.43,813.54 1601.1,813.42 1604.78,813.3 1608.45,813.2 1612.13,813.09 1615.8,813" fill="none" stroke="#000" stroke-width="1.6" stroke-linejoin="round"/>
<line x1="1008.2" y1="654.25" x2="1008.2" y2="920.95" stroke="#000" stroke-width="1.7"/>
<line x1="994.7" y1="920.1" x2="1008.2" y2="920.1" stroke="#000" stroke-width="1.7"/>
<text transform="translate(976 920.1) scale(1.03 1) rotate(-90)" font-size="22" text-anchor="middle">−2</text>
<line x1="994.7" y1="867.1" x2="1008.2" y2="867.1" stroke="#000" stroke-width="1.7"/>
<text transform="translate(976 867.1) scale(1.03 1) rotate(-90)" font-size="22" text-anchor="middle">−1</text>
<line x1="994.7" y1="814.1" x2="1008.2" y2="814.1" stroke="#000" stroke-width="1.7"/>
<text transform="translate(976 814.1) scale(1.03 1) rotate(-90)" font-size="22" text-anchor="middle">0</text>
<line x1="994.7" y1="761.1" x2="1008.2" y2="761.1" stroke="#000" stroke-width="1.7"/>
<text transform="translate(976 761.1) scale(1.03 1) rotate(-90)" font-size="22" text-anchor="middle">1</text>
<line x1="994.7" y1="708.1" x2="1008.2" y2="708.1" stroke="#000" stroke-width="1.7"/>
<text transform="translate(976 708.1) scale(1.03 1) rotate(-90)" font-size="22" text-anchor="middle">2</text>
<line x1="994.7" y1="655.1" x2="1008.2" y2="655.1" stroke="#000" stroke-width="1.7"/>
<text transform="translate(976 655.1) scale(1.03 1) rotate(-90)" font-size="22" text-anchor="middle">3</text>
<line x1="994.7" y1="814.25" x2="1638.9" y2="814.25" stroke="#000" stroke-width="1.75"/>
<line x1="1015.55" y1="931.1" x2="1616.65" y2="931.1" stroke="#000" stroke-width="1.7"/>
<line x1="1016.4" y1="931.1" x2="1016.4" y2="945.1" stroke="#000" stroke-width="1.7"/>
<text transform="translate(1016.4 979) scale(0.98 1)" font-size="22.3" text-anchor="middle">0</text>
<line x1="1166.25" y1="931.1" x2="1166.25" y2="945.1" stroke="#000" stroke-width="1.7"/>
<text transform="translate(1166.25 979) scale(0.98 1)" font-size="22.3" text-anchor="middle">50</text>
<line x1="1316.1" y1="931.1" x2="1316.1" y2="945.1" stroke="#000" stroke-width="1.7"/>
<text transform="translate(1316.1 979) scale(0.98 1)" font-size="22.3" text-anchor="middle">100</text>
<line x1="1465.95" y1="931.1" x2="1465.95" y2="945.1" stroke="#000" stroke-width="1.7"/>
<text transform="translate(1465.95 979) scale(0.98 1)" font-size="22.3" text-anchor="middle">150</text>
<line x1="1615.8" y1="931.1" x2="1615.8" y2="945.1" stroke="#000" stroke-width="1.7"/>
<text transform="translate(1615.8 979) scale(0.98 1)" font-size="22.3" text-anchor="middle">200</text>
<line x1="1208.3" y1="647.6" x2="1208.3" y2="931.1" stroke="#dc1219" stroke-width="1.8" stroke-dasharray="1.9 4.35"/>
<line x1="1303.3" y1="647.6" x2="1303.3" y2="931.1" stroke="#dc1219" stroke-width="1.8" stroke-dasharray="1.9 4.35"/>
<line x1="1207.8" y1="931.1" x2="1303.8" y2="931.1" stroke="#dc1219" stroke-width="3"/>
<text transform="translate(1323.2 600.6) scale(1.02 1)" font-size="25.3" text-anchor="middle" font-weight="bold" style="stroke-width:0.4px">Difference curve: L+H* vs. (LH)* – South</text>
<text transform="translate(923.2 787.2) rotate(-90)" font-size="22" text-anchor="middle">Estimated difference in semitones</text>
<text transform="translate(1661.3 930.6) rotate(-90)" font-size="16.4" text-anchor="start" fill="#3a3a3a" style="stroke:#3a3a3a;stroke-width:0.2px">difference</text>
<rect x="1700.4" y="634.9" width="65.2" height="231.9" rx="9" ry="9" fill="#bdbdbd"/>
<text transform="translate(1744.6 751.35) scale(1.08 1) rotate(-90)" font-size="32.3" text-anchor="middle" style="stroke-width:0.7px">L+H* vs. (LH)*</text>
<rect x="224.1" y="1072.5" width="140.7" height="275.2" rx="17" ry="17" fill="#f0f0f0"/>
<rect x="369" y="1075.1" width="148.1" height="275.2" rx="17" ry="17" fill="#f0f0f0"/>
<rect x="520.8" y="1075.1" width="149.1" height="275.2" rx="17" ry="17" fill="#f0f0f0"/>
<rect x="673.9" y="1075.1" width="147.6" height="275.2" rx="17" ry="17" fill="#f0f0f0"/>
<text x="245" y="1110.2" font-size="21.5" text-anchor="start" style="stroke-width:0.1px">n <tspan dx="0.2" font-size="16">(from <tspan font-style="italic">denn</tspan>)</tspan></text>
<text transform="translate(396.1 1110.2)" font-size="22" text-anchor="start" style="stroke-width:0.1px">syllable 1</text>
<text transform="translate(552.8 1110.2)" font-size="22" text-anchor="start" style="stroke-width:0.1px">syllable 2</text>
<text transform="translate(700.9 1110.2)" font-size="22" text-anchor="start" style="stroke-width:0.1px">syllable 3</text>
<polygon points="236.2,1234.4 239.87,1234.54 243.55,1234.67 247.22,1234.79 250.9,1234.9 254.57,1234.99 258.25,1235.07 261.92,1235.14 265.6,1235.19 269.27,1235.22 272.95,1235.23 276.62,1235.22 280.3,1235.19 283.97,1235.12 287.65,1235.03 291.32,1234.91 295,1234.78 298.67,1234.65 302.35,1234.54 306.02,1234.45 309.7,1234.41 313.37,1234.41 317.05,1234.46 320.72,1234.57 324.4,1234.71 328.07,1234.87 331.75,1235.05 335.42,1235.23 339.1,1235.39 342.77,1235.53 346.45,1235.64 350.12,1235.7 353.79,1235.71 357.47,1235.68 361.14,1235.62 364.82,1235.53 368.49,1235.41 372.17,1235.28 375.84,1235.13 379.52,1234.96 383.19,1234.79 386.87,1234.58 390.54,1234.33 394.22,1234.03 397.89,1233.67 401.57,1233.25 405.24,1232.76 408.92,1232.15 412.59,1231.31 416.27,1230.21 419.94,1228.8 423.62,1226.99 427.29,1224.59 430.97,1221.71 434.64,1218.54 438.32,1215.2 441.99,1211.57 445.67,1207.64 449.34,1203.47 453.02,1198.99 456.69,1194.19 460.37,1189.39 464.04,1184.9 467.72,1180.89 471.39,1177.14 475.06,1173.84 478.74,1171.18 482.41,1169.29 486.09,1167.81 489.76,1166.81 493.44,1166.39 497.11,1166.75 500.79,1167.94 504.46,1169.77 508.14,1172.03 511.81,1174.82 515.49,1178.3 519.16,1182.15 522.84,1186.1 526.51,1189.99 530.19,1193.94 533.86,1197.81 537.54,1201.44 541.21,1204.7 544.89,1207.64 548.56,1210.43 552.24,1213.25 555.91,1216.25 559.59,1219.46 563.26,1222.97 566.94,1226.96 570.61,1231.63 574.29,1236.83 577.96,1242.37 581.64,1248.21 585.31,1254.18 588.98,1260.35 592.66,1266.51 596.33,1272.35 600.01,1277.75 603.68,1282.85 607.36,1287.48 611.03,1291.45 614.71,1294.65 618.38,1297.35 622.06,1299.6 625.73,1301.39 629.41,1302.75 633.08,1303.84 636.76,1304.75 640.43,1305.5 644.11,1306.16 647.78,1306.75 651.46,1307.33 655.13,1307.89 658.81,1308.37 662.48,1308.71 666.16,1308.85 669.83,1308.68 673.51,1307.87 677.18,1306.43 680.86,1304.45 684.53,1301.67 688.21,1297.96 691.88,1293.8 695.56,1289.57 699.23,1285.14 702.91,1280.65 706.58,1276.38 710.25,1272.54 713.93,1268.99 717.6,1265.75 721.28,1262.97 724.95,1260.75 728.63,1258.97 732.3,1257.5 735.98,1256.28 739.65,1255.27 743.33,1254.41 747,1253.68 750.68,1253.03 754.35,1252.41 758.03,1251.75 761.7,1251 765.38,1250.15 769.05,1249.25 772.73,1248.3 776.4,1247.35 780.08,1246.41 783.75,1245.43 787.43,1244.42 791.1,1243.47 794.78,1242.68 798.45,1242.15 802.13,1241.93 805.8,1241.86 809.48,1241.9 813.15,1242.03 816.83,1242.23 820.5,1242.5 820.5,1269.5 816.83,1269.23 813.15,1269.03 809.48,1268.9 805.8,1268.86 802.13,1268.93 798.45,1269.15 794.78,1269.68 791.1,1270.47 787.43,1271.42 783.75,1272.43 780.08,1273.41 776.4,1274.35 772.73,1275.3 769.05,1276.25 765.38,1277.15 761.7,1278 758.03,1278.75 754.35,1279.41 750.68,1280.03 747,1280.68 743.33,1281.41 739.65,1282.27 735.98,1283.28 732.3,1284.5 728.63,1285.97 724.95,1287.75 721.28,1289.97 717.6,1292.75 713.93,1295.99 710.25,1299.54 706.58,1303.38 702.91,1307.65 699.23,1312.14 695.56,1316.57 691.88,1320.8 688.21,1324.96 684.53,1328.67 680.86,1331.45 677.18,1333.43 673.51,1334.87 669.83,1335.68 666.16,1335.85 662.48,1335.71 658.81,1335.37 655.13,1334.89 651.46,1334.33 647.78,1333.75 644.11,1333.16 640.43,1332.5 636.76,1331.75 633.08,1330.84 629.41,1329.75 625.73,1328.39 622.06,1326.6 618.38,1324.35 614.71,1321.65 611.03,1318.45 607.36,1314.48 603.68,1309.85 600.01,1304.75 596.33,1299.35 592.66,1293.51 588.98,1287.35 585.31,1281.18 581.64,1275.21 577.96,1269.37 574.29,1263.83 570.61,1258.63 566.94,1253.96 563.26,1249.97 559.59,1246.46 555.91,1243.25 552.24,1240.25 548.56,1237.43 544.89,1234.64 541.21,1231.7 537.54,1228.44 533.86,1224.81 530.19,1220.94 526.51,1216.99 522.84,1213.1 519.16,1209.15 515.49,1205.3 511.81,1201.82 508.14,1199.03 504.46,1196.77 500.79,1194.94 497.11,1193.75 493.44,1193.39 489.76,1193.81 486.09,1194.81 482.41,1196.29 478.74,1198.18 475.06,1200.84 471.39,1204.14 467.72,1207.89 464.04,1211.9 460.37,1216.39 456.69,1221.19 453.02,1225.99 449.34,1230.47 445.67,1234.64 441.99,1238.57 438.32,1242.2 434.64,1245.54 430.97,1248.71 427.29,1251.59 423.62,1253.99 419.94,1255.8 416.27,1257.21 412.59,1258.31 408.92,1259.15 405.24,1259.76 401.57,1260.25 397.89,1260.67 394.22,1261.03 390.54,1261.33 386.87,1261.58 383.19,1261.79 379.52,1261.96 375.84,1262.13 372.17,1262.28 368.49,1262.41 364.82,1262.53 361.14,1262.62 357.47,1262.68 353.79,1262.71 350.12,1262.7 346.45,1262.64 342.77,1262.53 339.1,1262.39 335.42,1262.23 331.75,1262.05 328.07,1261.87 324.4,1261.71 320.72,1261.57 317.05,1261.46 313.37,1261.41 309.7,1261.41 306.02,1261.45 302.35,1261.54 298.67,1261.65 295,1261.78 291.32,1261.91 287.65,1262.03 283.97,1262.12 280.3,1262.19 276.62,1262.22 272.95,1262.23 269.27,1262.22 265.6,1262.19 261.92,1262.14 258.25,1262.07 254.57,1261.99 250.9,1261.9 247.22,1261.79 243.55,1261.67 239.87,1261.54 236.2,1261.4" fill="#000" fill-opacity="0.25"/>
<polyline points="236.2,1247.9 239.87,1248.04 243.55,1248.17 247.22,1248.29 250.9,1248.4 254.57,1248.49 258.25,1248.57 261.92,1248.64 265.6,1248.69 269.27,1248.72 272.95,1248.73 276.62,1248.72 280.3,1248.69 283.97,1248.62 287.65,1248.53 291.32,1248.41 295,1248.28 298.67,1248.15 302.35,1248.04 306.02,1247.95 309.7,1247.91 313.37,1247.91 317.05,1247.96 320.72,1248.07 324.4,1248.21 328.07,1248.37 331.75,1248.55 335.42,1248.73 339.1,1248.89 342.77,1249.03 346.45,1249.14 350.12,1249.2 353.79,1249.21 357.47,1249.18 361.14,1249.12 364.82,1249.03 368.49,1248.91 372.17,1248.78 375.84,1248.63 379.52,1248.46 383.19,1248.29 386.87,1248.08 390.54,1247.83 394.22,1247.53 397.89,1247.17 401.57,1246.75 405.24,1246.26 408.92,1245.65 412.59,1244.81 416.27,1243.71 419.94,1242.3 423.62,1240.49 427.29,1238.09 430.97,1235.21 434.64,1232.04 438.32,1228.7 441.99,1225.07 445.67,1221.14 449.34,1216.97 453.02,1212.49 456.69,1207.69 460.37,1202.89 464.04,1198.4 467.72,1194.39 471.39,1190.64 475.06,1187.34 478.74,1184.68 482.41,1182.79 486.09,1181.31 489.76,1180.31 493.44,1179.89 497.11,1180.25 500.79,1181.44 504.46,1183.27 508.14,1185.53 511.81,1188.32 515.49,1191.8 519.16,1195.65 522.84,1199.6 526.51,1203.49 530.19,1207.44 533.86,1211.31 537.54,1214.94 541.21,1218.2 544.89,1221.14 548.56,1223.93 552.24,1226.75 555.91,1229.75 559.59,1232.96 563.26,1236.47 566.94,1240.46 570.61,1245.13 574.29,1250.33 577.96,1255.87 581.64,1261.71 585.31,1267.68 588.98,1273.85 592.66,1280.01 596.33,1285.85 600.01,1291.25 603.68,1296.35 607.36,1300.98 611.03,1304.95 614.71,1308.15 618.38,1310.85 622.06,1313.1 625.73,1314.89 629.41,1316.25 633.08,1317.34 636.76,1318.25 640.43,1319 644.11,1319.66 647.78,1320.25 651.46,1320.83 655.13,1321.39 658.81,1321.87 662.48,1322.21 666.16,1322.35 669.83,1322.18 673.51,1321.37 677.18,1319.93 680.86,1317.95 684.53,1315.17 688.21,1311.46 691.88,1307.3 695.56,1303.07 699.23,1298.64 702.91,1294.15 706.58,1289.88 710.25,1286.04 713.93,1282.49 717.6,1279.25 721.28,1276.47 724.95,1274.25 728.63,1272.47 732.3,1271 735.98,1269.78 739.65,1268.77 743.33,1267.91 747,1267.18 750.68,1266.53 754.35,1265.91 758.03,1265.25 761.7,1264.5 765.38,1263.65 769.05,1262.75 772.73,1261.8 776.4,1260.85 780.08,1259.91 783.75,1258.93 787.43,1257.92 791.1,1256.97 794.78,1256.18 798.45,1255.65 802.13,1255.43 805.8,1255.36 809.48,1255.4 813.15,1255.53 816.83,1255.73 820.5,1256" fill="none" stroke="#000" stroke-width="1.6" stroke-linejoin="round"/>
<line x1="212.8" y1="1086.75" x2="212.8" y2="1353.45" stroke="#000" stroke-width="1.7"/>
<line x1="199.3" y1="1352.6" x2="212.8" y2="1352.6" stroke="#000" stroke-width="1.7"/>
<text transform="translate(180.8 1352.6) scale(1.03 1) rotate(-90)" font-size="22" text-anchor="middle">−2</text>
<line x1="199.3" y1="1299.6" x2="212.8" y2="1299.6" stroke="#000" stroke-width="1.7"/>
<text transform="translate(180.8 1299.6) scale(1.03 1) rotate(-90)" font-size="22" text-anchor="middle">−1</text>
<line x1="199.3" y1="1246.6" x2="212.8" y2="1246.6" stroke="#000" stroke-width="1.7"/>
<text transform="translate(180.8 1246.6) scale(1.03 1) rotate(-90)" font-size="22" text-anchor="middle">0</text>
<line x1="199.3" y1="1193.6" x2="212.8" y2="1193.6" stroke="#000" stroke-width="1.7"/>
<text transform="translate(180.8 1193.6) scale(1.03 1) rotate(-90)" font-size="22" text-anchor="middle">1</text>
<line x1="199.3" y1="1140.6" x2="212.8" y2="1140.6" stroke="#000" stroke-width="1.7"/>
<text transform="translate(180.8 1140.6) scale(1.03 1) rotate(-90)" font-size="22" text-anchor="middle">2</text>
<line x1="199.3" y1="1087.6" x2="212.8" y2="1087.6" stroke="#000" stroke-width="1.7"/>
<text transform="translate(180.8 1087.6) scale(1.03 1) rotate(-90)" font-size="22" text-anchor="middle">3</text>
<line x1="199.3" y1="1246.75" x2="843.6" y2="1246.75" stroke="#000" stroke-width="1.75"/>
<line x1="220.35" y1="1363.5" x2="821.45" y2="1363.5" stroke="#000" stroke-width="1.7"/>
<line x1="221.2" y1="1363.5" x2="221.2" y2="1377.5" stroke="#000" stroke-width="1.7"/>
<text transform="translate(221.2 1411.4) scale(0.98 1)" font-size="22.3" text-anchor="middle">0</text>
<line x1="371.05" y1="1363.5" x2="371.05" y2="1377.5" stroke="#000" stroke-width="1.7"/>
<text transform="translate(371.05 1411.4) scale(0.98 1)" font-size="22.3" text-anchor="middle">50</text>
<line x1="520.9" y1="1363.5" x2="520.9" y2="1377.5" stroke="#000" stroke-width="1.7"/>
<text transform="translate(520.9 1411.4) scale(0.98 1)" font-size="22.3" text-anchor="middle">100</text>
<line x1="670.75" y1="1363.5" x2="670.75" y2="1377.5" stroke="#000" stroke-width="1.7"/>
<text transform="translate(670.75 1411.4) scale(0.98 1)" font-size="22.3" text-anchor="middle">150</text>
<line x1="820.6" y1="1363.5" x2="820.6" y2="1377.5" stroke="#000" stroke-width="1.7"/>
<text transform="translate(820.6 1411.4) scale(0.98 1)" font-size="22.3" text-anchor="middle">200</text>
<line x1="436.8" y1="1080.1" x2="436.8" y2="1363.5" stroke="#dc1219" stroke-width="1.8" stroke-dasharray="1.9 4.35"/>
<line x1="555.2" y1="1080.1" x2="555.2" y2="1363.5" stroke="#dc1219" stroke-width="1.8" stroke-dasharray="1.9 4.35"/>
<line x1="436.3" y1="1363.5" x2="555.7" y2="1363.5" stroke="#dc1219" stroke-width="3"/>
<line x1="583.9" y1="1080.1" x2="583.9" y2="1363.5" stroke="#dc1219" stroke-width="1.8" stroke-dasharray="1.9 4.35"/>
<line x1="773.4" y1="1080.1" x2="773.4" y2="1363.5" stroke="#dc1219" stroke-width="1.8" stroke-dasharray="1.9 4.35"/>
<line x1="583.4" y1="1363.5" x2="773.9" y2="1363.5" stroke="#dc1219" stroke-width="3"/>
<text transform="translate(528.1 1031.9) scale(1.02 1)" font-size="25.3" text-anchor="middle" font-weight="bold" style="stroke-width:0.4px">Difference curve: (LH)* vs. L*+H – North</text>
<text transform="translate(128.2 1219.9) rotate(-90)" font-size="22" text-anchor="middle">Estimated difference in semitones</text>
<text transform="translate(866 1363) rotate(-90)" font-size="16.4" text-anchor="start" fill="#3a3a3a" style="stroke:#3a3a3a;stroke-width:0.2px">difference</text>
<rect x="6.9" y="1077.1" width="65.2" height="231.3" rx="9" ry="9" fill="#bdbdbd"/>
<text transform="translate(51.1 1193.25) scale(1.08 1) rotate(-90)" font-size="32.3" text-anchor="middle" style="stroke-width:0.7px">(LH)* vs. L*+H</text>
<rect x="1020.9" y="1076.3" width="140" height="275" rx="17" ry="17" fill="#f0f0f0"/>
<rect x="1165.3" y="1078.9" width="147.5" height="274.9" rx="17" ry="17" fill="#f0f0f0"/>
<rect x="1316.5" y="1078.9" width="149.1" height="274.9" rx="17" ry="17" fill="#f0f0f0"/>
<rect x="1470.1" y="1078.9" width="147.2" height="274.9" rx="17" ry="17" fill="#f0f0f0"/>
<text x="1039.5" y="1108.2" font-size="21.5" text-anchor="start" style="stroke-width:0.1px">n <tspan dx="0.2" font-size="16">(from <tspan font-style="italic">denn</tspan>)</tspan></text>
<text transform="translate(1190.3 1108.2)" font-size="22" text-anchor="start" style="stroke-width:0.1px">syllable 1</text>
<text transform="translate(1347.4 1108.2)" font-size="22" text-anchor="start" style="stroke-width:0.1px">syllable 2</text>
<text transform="translate(1495.2 1108.2)" font-size="22" text-anchor="start" style="stroke-width:0.1px">syllable 3</text>
<polygon points="1031.6,1224.3 1035.27,1224.36 1038.95,1224.43 1042.62,1224.48 1046.3,1224.53 1049.97,1224.57 1053.65,1224.61 1057.32,1224.64 1060.99,1224.65 1064.67,1224.66 1068.34,1224.65 1072.02,1224.64 1075.69,1224.61 1079.36,1224.56 1083.04,1224.5 1086.71,1224.41 1090.39,1224.27 1094.06,1224.1 1097.74,1223.89 1101.41,1223.68 1105.08,1223.45 1108.76,1223.23 1112.43,1223.03 1116.11,1222.84 1119.78,1222.68 1123.46,1222.57 1127.13,1222.51 1130.8,1222.5 1134.48,1222.53 1138.15,1222.59 1141.83,1222.66 1145.5,1222.75 1149.17,1222.84 1152.85,1222.92 1156.52,1223 1160.2,1223.05 1163.87,1223.08 1167.55,1223.07 1171.22,1223.02 1174.89,1222.89 1178.57,1222.61 1182.24,1222.2 1185.92,1221.67 1189.59,1221.01 1193.27,1220.25 1196.94,1219.38 1200.61,1218.42 1204.29,1217.36 1207.96,1216.06 1211.64,1214.55 1215.31,1212.85 1218.98,1211.01 1222.66,1209.08 1226.33,1206.99 1230.01,1204.73 1233.68,1202.35 1237.36,1199.94 1241.03,1197.58 1244.7,1195.32 1248.38,1193.06 1252.05,1190.88 1255.73,1188.91 1259.4,1187.25 1263.08,1185.98 1266.75,1184.92 1270.42,1184.18 1274.1,1183.89 1277.77,1184.07 1281.45,1184.69 1285.12,1185.76 1288.79,1187.45 1292.47,1190.11 1296.14,1193.46 1299.82,1197.17 1303.49,1201 1307.17,1205.13 1310.84,1209.47 1314.51,1213.88 1318.19,1218.31 1321.86,1222.83 1325.54,1227.43 1329.21,1232.05 1332.89,1236.52 1336.56,1240.8 1340.23,1244.91 1343.91,1248.8 1347.58,1252.46 1351.26,1255.93 1354.93,1259.23 1358.61,1262.37 1362.28,1265.35 1365.95,1268.16 1369.63,1270.87 1373.3,1273.55 1376.98,1276.27 1380.65,1279.1 1384.32,1282.04 1388,1285.08 1391.67,1288.23 1395.35,1291.49 1399.02,1294.87 1402.7,1298.42 1406.37,1302.11 1410.04,1305.86 1413.72,1309.61 1417.39,1313.31 1421.07,1317.11 1424.74,1320.76 1428.42,1323.93 1432.09,1326.3 1435.76,1328.08 1439.44,1329.26 1443.11,1329.58 1446.79,1328.8 1450.46,1327.03 1454.13,1324.5 1457.81,1320.84 1461.48,1315.99 1465.16,1310.48 1468.83,1304.69 1472.51,1298.41 1476.18,1291.96 1479.85,1285.76 1483.53,1279.81 1487.2,1274.08 1490.88,1268.69 1494.55,1263.79 1498.23,1259.32 1501.9,1255.22 1505.57,1251.58 1509.25,1248.51 1512.92,1245.94 1516.6,1243.7 1520.27,1241.84 1523.94,1240.39 1527.62,1239.33 1531.29,1238.44 1534.97,1237.7 1538.64,1237.1 1542.32,1236.66 1545.99,1236.36 1549.66,1236.21 1553.34,1236.2 1557.01,1236.26 1560.69,1236.39 1564.36,1236.58 1568.04,1236.82 1571.71,1237.12 1575.38,1237.45 1579.06,1237.86 1582.73,1238.37 1586.41,1238.91 1590.08,1239.42 1593.75,1239.82 1597.43,1240.06 1601.1,1240.19 1604.78,1240.28 1608.45,1240.32 1612.13,1240.32 1615.8,1240.3 1615.8,1267.3 1612.13,1267.32 1608.45,1267.32 1604.78,1267.28 1601.1,1267.19 1597.43,1267.06 1593.75,1266.82 1590.08,1266.42 1586.41,1265.91 1582.73,1265.37 1579.06,1264.86 1575.38,1264.45 1571.71,1264.12 1568.04,1263.82 1564.36,1263.58 1560.69,1263.39 1557.01,1263.26 1553.34,1263.2 1549.66,1263.21 1545.99,1263.36 1542.32,1263.66 1538.64,1264.1 1534.97,1264.7 1531.29,1265.44 1527.62,1266.33 1523.94,1267.39 1520.27,1268.84 1516.6,1270.7 1512.92,1272.94 1509.25,1275.51 1505.57,1278.58 1501.9,1282.22 1498.23,1286.32 1494.55,1290.79 1490.88,1295.69 1487.2,1301.08 1483.53,1306.81 1479.85,1312.76 1476.18,1318.96 1472.51,1325.41 1468.83,1331.69 1465.16,1337.48 1461.48,1342.99 1457.81,1347.84 1454.13,1351.5 1450.46,1354.03 1446.79,1355.8 1443.11,1356.58 1439.44,1356.26 1435.76,1355.08 1432.09,1353.3 1428.42,1350.93 1424.74,1347.76 1421.07,1344.11 1417.39,1340.31 1413.72,1336.61 1410.04,1332.86 1406.37,1329.11 1402.7,1325.42 1399.02,1321.87 1395.35,1318.49 1391.67,1315.23 1388,1312.08 1384.32,1309.04 1380.65,1306.1 1376.98,1303.27 1373.3,1300.55 1369.63,1297.87 1365.95,1295.16 1362.28,1292.35 1358.61,1289.37 1354.93,1286.23 1351.26,1282.93 1347.58,1279.46 1343.91,1275.8 1340.23,1271.91 1336.56,1267.8 1332.89,1263.52 1329.21,1259.05 1325.54,1254.43 1321.86,1249.83 1318.19,1245.31 1314.51,1240.88 1310.84,1236.47 1307.17,1232.13 1303.49,1228 1299.82,1224.17 1296.14,1220.46 1292.47,1217.11 1288.79,1214.45 1285.12,1212.76 1281.45,1211.69 1277.77,1211.07 1274.1,1210.89 1270.42,1211.18 1266.75,1211.92 1263.08,1212.98 1259.4,1214.25 1255.73,1215.91 1252.05,1217.88 1248.38,1220.06 1244.7,1222.32 1241.03,1224.58 1237.36,1226.94 1233.68,1229.35 1230.01,1231.73 1226.33,1233.99 1222.66,1236.08 1218.98,1238.01 1215.31,1239.85 1211.64,1241.55 1207.96,1243.06 1204.29,1244.36 1200.61,1245.42 1196.94,1246.38 1193.27,1247.25 1189.59,1248.01 1185.92,1248.67 1182.24,1249.2 1178.57,1249.61 1174.89,1249.89 1171.22,1250.02 1167.55,1250.07 1163.87,1250.08 1160.2,1250.05 1156.52,1250 1152.85,1249.92 1149.17,1249.84 1145.5,1249.75 1141.83,1249.66 1138.15,1249.59 1134.48,1249.53 1130.8,1249.5 1127.13,1249.51 1123.46,1249.57 1119.78,1249.68 1116.11,1249.84 1112.43,1250.03 1108.76,1250.23 1105.08,1250.45 1101.41,1250.68 1097.74,1250.89 1094.06,1251.1 1090.39,1251.27 1086.71,1251.41 1083.04,1251.5 1079.36,1251.56 1075.69,1251.61 1072.02,1251.64 1068.34,1251.65 1064.67,1251.66 1060.99,1251.65 1057.32,1251.64 1053.65,1251.61 1049.97,1251.57 1046.3,1251.53 1042.62,1251.48 1038.95,1251.43 1035.27,1251.36 1031.6,1251.3" fill="#000" fill-opacity="0.25"/>
<polyline points="1031.6,1237.8 1035.27,1237.86 1038.95,1237.93 1042.62,1237.98 1046.3,1238.03 1049.97,1238.07 1053.65,1238.11 1057.32,1238.14 1060.99,1238.15 1064.67,1238.16 1068.34,1238.15 1072.02,1238.14 1075.69,1238.11 1079.36,1238.06 1083.04,1238 1086.71,1237.91 1090.39,1237.77 1094.06,1237.6 1097.74,1237.39 1101.41,1237.18 1105.08,1236.95 1108.76,1236.73 1112.43,1236.53 1116.11,1236.34 1119.78,1236.18 1123.46,1236.07 1127.13,1236.01 1130.8,1236 1134.48,1236.03 1138.15,1236.09 1141.83,1236.16 1145.5,1236.25 1149.17,1236.34 1152.85,1236.42 1156.52,1236.5 1160.2,1236.55 1163.87,1236.58 1167.55,1236.57 1171.22,1236.52 1174.89,1236.39 1178.57,1236.11 1182.24,1235.7 1185.92,1235.17 1189.59,1234.51 1193.27,1233.75 1196.94,1232.88 1200.61,1231.92 1204.29,1230.86 1207.96,1229.56 1211.64,1228.05 1215.31,1226.35 1218.98,1224.51 1222.66,1222.58 1226.33,1220.49 1230.01,1218.23 1233.68,1215.85 1237.36,1213.44 1241.03,1211.08 1244.7,1208.82 1248.38,1206.56 1252.05,1204.38 1255.73,1202.41 1259.4,1200.75 1263.08,1199.48 1266.75,1198.42 1270.42,1197.68 1274.1,1197.39 1277.77,1197.57 1281.45,1198.19 1285.12,1199.26 1288.79,1200.95 1292.47,1203.61 1296.14,1206.96 1299.82,1210.67 1303.49,1214.5 1307.17,1218.63 1310.84,1222.97 1314.51,1227.38 1318.19,1231.81 1321.86,1236.33 1325.54,1240.93 1329.21,1245.55 1332.89,1250.02 1336.56,1254.3 1340.23,1258.41 1343.91,1262.3 1347.58,1265.96 1351.26,1269.43 1354.93,1272.73 1358.61,1275.87 1362.28,1278.85 1365.95,1281.66 1369.63,1284.37 1373.3,1287.05 1376.98,1289.77 1380.65,1292.6 1384.32,1295.54 1388,1298.58 1391.67,1301.73 1395.35,1304.99 1399.02,1308.37 1402.7,1311.92 1406.37,1315.61 1410.04,1319.36 1413.72,1323.11 1417.39,1326.81 1421.07,1330.61 1424.74,1334.26 1428.42,1337.43 1432.09,1339.8 1435.76,1341.58 1439.44,1342.76 1443.11,1343.08 1446.79,1342.3 1450.46,1340.53 1454.13,1338 1457.81,1334.34 1461.48,1329.49 1465.16,1323.98 1468.83,1318.19 1472.51,1311.91 1476.18,1305.46 1479.85,1299.26 1483.53,1293.31 1487.2,1287.58 1490.88,1282.19 1494.55,1277.29 1498.23,1272.82 1501.9,1268.72 1505.57,1265.08 1509.25,1262.01 1512.92,1259.44 1516.6,1257.2 1520.27,1255.34 1523.94,1253.89 1527.62,1252.83 1531.29,1251.94 1534.97,1251.2 1538.64,1250.6 1542.32,1250.16 1545.99,1249.86 1549.66,1249.71 1553.34,1249.7 1557.01,1249.76 1560.69,1249.89 1564.36,1250.08 1568.04,1250.32 1571.71,1250.62 1575.38,1250.95 1579.06,1251.36 1582.73,1251.87 1586.41,1252.41 1590.08,1252.92 1593.75,1253.32 1597.43,1253.56 1601.1,1253.69 1604.78,1253.78 1608.45,1253.82 1612.13,1253.82 1615.8,1253.8" fill="none" stroke="#000" stroke-width="1.6" stroke-linejoin="round"/>
<line x1="1008.2" y1="1086.75" x2="1008.2" y2="1353.45" stroke="#000" stroke-width="1.7"/>
<line x1="994.7" y1="1352.6" x2="1008.2" y2="1352.6" stroke="#000" stroke-width="1.7"/>
<text transform="translate(976 1352.6) scale(1.03 1) rotate(-90)" font-size="22" text-anchor="middle">−2</text>
<line x1="994.7" y1="1299.6" x2="1008.2" y2="1299.6" stroke="#000" stroke-width="1.7"/>
<text transform="translate(976 1299.6) scale(1.03 1) rotate(-90)" font-size="22" text-anchor="middle">−1</text>
<line x1="994.7" y1="1246.6" x2="1008.2" y2="1246.6" stroke="#000" stroke-width="1.7"/>
<text transform="translate(976 1246.6) scale(1.03 1) rotate(-90)" font-size="22" text-anchor="middle">0</text>
<line x1="994.7" y1="1193.6" x2="1008.2" y2="1193.6" stroke="#000" stroke-width="1.7"/>
<text transform="translate(976 1193.6) scale(1.03 1) rotate(-90)" font-size="22" text-anchor="middle">1</text>
<line x1="994.7" y1="1140.6" x2="1008.2" y2="1140.6" stroke="#000" stroke-width="1.7"/>
<text transform="translate(976 1140.6) scale(1.03 1) rotate(-90)" font-size="22" text-anchor="middle">2</text>
<line x1="994.7" y1="1087.6" x2="1008.2" y2="1087.6" stroke="#000" stroke-width="1.7"/>
<text transform="translate(976 1087.6) scale(1.03 1) rotate(-90)" font-size="22" text-anchor="middle">3</text>
<line x1="994.7" y1="1246.75" x2="1638.9" y2="1246.75" stroke="#000" stroke-width="1.75"/>
<line x1="1015.55" y1="1363.5" x2="1616.65" y2="1363.5" stroke="#000" stroke-width="1.7"/>
<line x1="1016.4" y1="1363.5" x2="1016.4" y2="1377.5" stroke="#000" stroke-width="1.7"/>
<text transform="translate(1016.4 1411.4) scale(0.98 1)" font-size="22.3" text-anchor="middle">0</text>
<line x1="1166.25" y1="1363.5" x2="1166.25" y2="1377.5" stroke="#000" stroke-width="1.7"/>
<text transform="translate(1166.25 1411.4) scale(0.98 1)" font-size="22.3" text-anchor="middle">50</text>
<line x1="1316.1" y1="1363.5" x2="1316.1" y2="1377.5" stroke="#000" stroke-width="1.7"/>
<text transform="translate(1316.1 1411.4) scale(0.98 1)" font-size="22.3" text-anchor="middle">100</text>
<line x1="1465.95" y1="1363.5" x2="1465.95" y2="1377.5" stroke="#000" stroke-width="1.7"/>
<text transform="translate(1465.95 1411.4) scale(0.98 1)" font-size="22.3" text-anchor="middle">150</text>
<line x1="1615.8" y1="1363.5" x2="1615.8" y2="1377.5" stroke="#000" stroke-width="1.7"/>
<text transform="translate(1615.8 1411.4) scale(0.98 1)" font-size="22.3" text-anchor="middle">200</text>
<line x1="1202.5" y1="1080.1" x2="1202.5" y2="1363.5" stroke="#dc1219" stroke-width="1.8" stroke-dasharray="1.9 4.35"/>
<line x1="1315" y1="1080.1" x2="1315" y2="1363.5" stroke="#dc1219" stroke-width="1.8" stroke-dasharray="1.9 4.35"/>
<line x1="1202" y1="1363.5" x2="1315.5" y2="1363.5" stroke="#dc1219" stroke-width="3"/>
<line x1="1344.1" y1="1080.1" x2="1344.1" y2="1363.5" stroke="#dc1219" stroke-width="1.8" stroke-dasharray="1.9 4.35"/>
<line x1="1509.7" y1="1080.1" x2="1509.7" y2="1363.5" stroke="#dc1219" stroke-width="1.8" stroke-dasharray="1.9 4.35"/>
<line x1="1343.6" y1="1363.5" x2="1510.2" y2="1363.5" stroke="#dc1219" stroke-width="3"/>
<text transform="translate(1323.2 1031.9) scale(1.02 1)" font-size="25.3" text-anchor="middle" font-weight="bold" style="stroke-width:0.4px">Difference curve: (LH)* vs. L*+H – South</text>
<text transform="translate(923.2 1219.9) rotate(-90)" font-size="22" text-anchor="middle">Estimated difference in semitones</text>
<text transform="translate(1661.3 1363) rotate(-90)" font-size="16.4" text-anchor="start" fill="#3a3a3a" style="stroke:#3a3a3a;stroke-width:0.2px">difference</text>
<rect x="1701.1" y="1086.5" width="65.3" height="232" rx="9" ry="9" fill="#bdbdbd"/>
<text transform="translate(1745.35 1203) scale(1.08 1) rotate(-90)" font-size="32.3" text-anchor="middle" style="stroke-width:0.7px">(LH)* vs. L*+H</text>
<rect x="224.1" y="1506.3" width="140.7" height="275.7" rx="17" ry="17" fill="#f0f0f0"/>
<rect x="369" y="1508.9" width="148.1" height="275.4" rx="17" ry="17" fill="#f0f0f0"/>
<rect x="520.8" y="1508.9" width="149.1" height="275.4" rx="17" ry="17" fill="#f0f0f0"/>
<rect x="673.9" y="1508.9" width="147.6" height="275.4" rx="17" ry="17" fill="#f0f0f0"/>
<text x="245" y="1542.6" font-size="21.5" text-anchor="start" style="stroke-width:0.1px">n <tspan dx="0.2" font-size="16">(from <tspan font-style="italic">denn</tspan>)</tspan></text>
<text transform="translate(396.1 1542.6)" font-size="22" text-anchor="start" style="stroke-width:0.1px">syllable 1</text>
<text transform="translate(552.8 1542.6)" font-size="22" text-anchor="start" style="stroke-width:0.1px">syllable 2</text>
<text transform="translate(700.9 1542.6)" font-size="22" text-anchor="start" style="stroke-width:0.1px">syllable 3</text>
<polygon points="236.2,1654 239.87,1654.1 243.55,1654.19 247.22,1654.27 250.9,1654.34 254.57,1654.4 258.25,1654.44 261.92,1654.47 265.6,1654.47 269.27,1654.46 272.95,1654.42 276.62,1654.36 280.3,1654.27 283.97,1654.11 287.65,1653.86 291.32,1653.57 295,1653.25 298.67,1652.92 302.35,1652.62 306.02,1652.35 309.7,1652.13 313.37,1651.95 317.05,1651.79 320.72,1651.65 324.4,1651.5 328.07,1651.36 331.75,1651.19 335.42,1651 339.1,1650.77 342.77,1650.5 346.45,1650.17 350.12,1649.75 353.79,1649.25 357.47,1648.66 361.14,1647.98 364.82,1647.2 368.49,1646.33 372.17,1645.3 375.84,1644.07 379.52,1642.64 383.19,1641.01 386.87,1639.18 390.54,1637.12 394.22,1634.71 397.89,1631.93 401.57,1628.79 405.24,1625.28 408.92,1621.33 412.59,1616.81 416.27,1611.78 419.94,1606.32 423.62,1600.46 427.29,1594.04 430.97,1587.13 434.64,1579.83 438.32,1572.19 441.99,1564.02 445.67,1555.83 449.34,1548.25 453.02,1541.62 456.69,1535.74 460.37,1530.69 464.04,1526.24 467.72,1522.79 471.39,1520.95 475.06,1520.07 478.74,1520.22 482.41,1521.47 486.09,1523.65 489.76,1527.33 493.44,1532.44 497.11,1538.39 500.79,1545.41 504.46,1553.11 508.14,1560.86 511.81,1568.39 515.49,1575.86 519.16,1583.22 522.84,1590.43 526.51,1597.47 530.19,1604.38 533.86,1611.08 537.54,1617.5 541.21,1623.56 544.89,1629.25 548.56,1634.83 552.24,1640.54 555.91,1646.62 559.59,1653.13 563.26,1659.93 566.94,1666.86 570.61,1673.85 574.29,1680.97 577.96,1688.31 581.64,1695.99 585.31,1703.89 588.98,1711.73 592.66,1719.21 596.33,1726.31 600.01,1733.03 603.68,1739.21 607.36,1744.79 611.03,1749.93 614.71,1754.34 618.38,1757.73 622.06,1760.36 625.73,1762.39 629.41,1763.77 633.08,1764.6 636.76,1765.22 640.43,1765.64 644.11,1765.9 647.78,1766 651.46,1765.98 655.13,1765.85 658.81,1765.6 662.48,1765.2 666.16,1764.64 669.83,1763.64 673.51,1762.03 677.18,1759.83 680.86,1756.9 684.53,1752.85 688.21,1748 691.88,1742.69 695.56,1736.79 699.23,1730.4 702.91,1723.85 706.58,1717.32 710.25,1710.73 713.93,1704.52 717.6,1699.11 721.28,1694.34 724.95,1690.23 728.63,1686.98 732.3,1684.58 735.98,1682.65 739.65,1681.21 743.33,1680.28 747,1679.77 750.68,1679.47 754.35,1679.28 758.03,1679.13 761.7,1678.94 765.38,1678.64 769.05,1678.14 772.73,1677.34 776.4,1676.33 780.08,1675.24 783.75,1674.18 787.43,1673.24 791.1,1672.32 794.78,1671.49 798.45,1670.81 802.13,1670.36 805.8,1670.15 809.48,1670.03 813.15,1669.97 816.83,1669.97 820.5,1670 820.5,1697 816.83,1696.97 813.15,1696.97 809.48,1697.03 805.8,1697.15 802.13,1697.36 798.45,1697.81 794.78,1698.49 791.1,1699.32 787.43,1700.24 783.75,1701.18 780.08,1702.24 776.4,1703.33 772.73,1704.34 769.05,1705.14 765.38,1705.64 761.7,1705.94 758.03,1706.13 754.35,1706.28 750.68,1706.47 747,1706.77 743.33,1707.28 739.65,1708.21 735.98,1709.65 732.3,1711.58 728.63,1713.98 724.95,1717.23 721.28,1721.34 717.6,1726.11 713.93,1731.52 710.25,1737.73 706.58,1744.32 702.91,1750.85 699.23,1757.4 695.56,1763.79 691.88,1769.69 688.21,1775 684.53,1779.85 680.86,1783.9 677.18,1786.83 673.51,1789.03 669.83,1790.64 666.16,1791.64 662.48,1792.2 658.81,1792.6 655.13,1792.85 651.46,1792.98 647.78,1793 644.11,1792.9 640.43,1792.64 636.76,1792.22 633.08,1791.6 629.41,1790.77 625.73,1789.39 622.06,1787.36 618.38,1784.73 614.71,1781.34 611.03,1776.93 607.36,1771.79 603.68,1766.21 600.01,1760.03 596.33,1753.31 592.66,1746.21 588.98,1738.73 585.31,1730.89 581.64,1722.99 577.96,1715.31 574.29,1707.97 570.61,1700.85 566.94,1693.86 563.26,1686.93 559.59,1680.13 555.91,1673.62 552.24,1667.54 548.56,1661.83 544.89,1656.25 541.21,1650.56 537.54,1644.5 533.86,1638.08 530.19,1631.38 526.51,1624.47 522.84,1617.43 519.16,1610.22 515.49,1602.86 511.81,1595.39 508.14,1587.86 504.46,1580.11 500.79,1572.41 497.11,1565.39 493.44,1559.44 489.76,1554.33 486.09,1550.65 482.41,1548.47 478.74,1547.22 475.06,1547.07 471.39,1547.95 467.72,1549.79 464.04,1553.24 460.37,1557.69 456.69,1562.74 453.02,1568.62 449.34,1575.25 445.67,1582.83 441.99,1591.02 438.32,1599.19 434.64,1606.83 430.97,1614.13 427.29,1621.04 423.62,1627.46 419.94,1633.32 416.27,1638.78 412.59,1643.81 408.92,1648.33 405.24,1652.28 401.57,1655.79 397.89,1658.93 394.22,1661.71 390.54,1664.12 386.87,1666.18 383.19,1668.01 379.52,1669.64 375.84,1671.07 372.17,1672.3 368.49,1673.33 364.82,1674.2 361.14,1674.98 357.47,1675.66 353.79,1676.25 350.12,1676.75 346.45,1677.17 342.77,1677.5 339.1,1677.77 335.42,1678 331.75,1678.19 328.07,1678.36 324.4,1678.5 320.72,1678.65 317.05,1678.79 313.37,1678.95 309.7,1679.13 306.02,1679.35 302.35,1679.62 298.67,1679.92 295,1680.25 291.32,1680.57 287.65,1680.86 283.97,1681.11 280.3,1681.27 276.62,1681.36 272.95,1681.42 269.27,1681.46 265.6,1681.47 261.92,1681.47 258.25,1681.44 254.57,1681.4 250.9,1681.34 247.22,1681.27 243.55,1681.19 239.87,1681.1 236.2,1681" fill="#000" fill-opacity="0.25"/>
<polyline points="236.2,1667.5 239.87,1667.6 243.55,1667.69 247.22,1667.77 250.9,1667.84 254.57,1667.9 258.25,1667.94 261.92,1667.97 265.6,1667.97 269.27,1667.96 272.95,1667.92 276.62,1667.86 280.3,1667.77 283.97,1667.61 287.65,1667.36 291.32,1667.07 295,1666.75 298.67,1666.42 302.35,1666.12 306.02,1665.85 309.7,1665.63 313.37,1665.45 317.05,1665.29 320.72,1665.15 324.4,1665 328.07,1664.86 331.75,1664.69 335.42,1664.5 339.1,1664.27 342.77,1664 346.45,1663.67 350.12,1663.25 353.79,1662.75 357.47,1662.16 361.14,1661.48 364.82,1660.7 368.49,1659.83 372.17,1658.8 375.84,1657.57 379.52,1656.14 383.19,1654.51 386.87,1652.68 390.54,1650.62 394.22,1648.21 397.89,1645.43 401.57,1642.29 405.24,1638.78 408.92,1634.83 412.59,1630.31 416.27,1625.28 419.94,1619.82 423.62,1613.96 427.29,1607.54 430.97,1600.63 434.64,1593.33 438.32,1585.69 441.99,1577.52 445.67,1569.33 449.34,1561.75 453.02,1555.12 456.69,1549.24 460.37,1544.19 464.04,1539.74 467.72,1536.29 471.39,1534.45 475.06,1533.57 478.74,1533.72 482.41,1534.97 486.09,1537.15 489.76,1540.83 493.44,1545.94 497.11,1551.89 500.79,1558.91 504.46,1566.61 508.14,1574.36 511.81,1581.89 515.49,1589.36 519.16,1596.72 522.84,1603.93 526.51,1610.97 530.19,1617.88 533.86,1624.58 537.54,1631 541.21,1637.06 544.89,1642.75 548.56,1648.33 552.24,1654.04 555.91,1660.12 559.59,1666.63 563.26,1673.43 566.94,1680.36 570.61,1687.35 574.29,1694.47 577.96,1701.81 581.64,1709.49 585.31,1717.39 588.98,1725.23 592.66,1732.71 596.33,1739.81 600.01,1746.53 603.68,1752.71 607.36,1758.29 611.03,1763.43 614.71,1767.84 618.38,1771.23 622.06,1773.86 625.73,1775.89 629.41,1777.27 633.08,1778.1 636.76,1778.72 640.43,1779.14 644.11,1779.4 647.78,1779.5 651.46,1779.48 655.13,1779.35 658.81,1779.1 662.48,1778.7 666.16,1778.14 669.83,1777.14 673.51,1775.53 677.18,1773.33 680.86,1770.4 684.53,1766.35 688.21,1761.5 691.88,1756.19 695.56,1750.29 699.23,1743.9 702.91,1737.35 706.58,1730.82 710.25,1724.23 713.93,1718.02 717.6,1712.61 721.28,1707.84 724.95,1703.73 728.63,1700.48 732.3,1698.08 735.98,1696.15 739.65,1694.71 743.33,1693.78 747,1693.27 750.68,1692.97 754.35,1692.78 758.03,1692.63 761.7,1692.44 765.38,1692.14 769.05,1691.64 772.73,1690.84 776.4,1689.83 780.08,1688.74 783.75,1687.68 787.43,1686.74 791.1,1685.82 794.78,1684.99 798.45,1684.31 802.13,1683.86 805.8,1683.65 809.48,1683.53 813.15,1683.47 816.83,1683.47 820.5,1683.5" fill="none" stroke="#000" stroke-width="1.6" stroke-linejoin="round"/>
<line x1="212.8" y1="1520.25" x2="212.8" y2="1786.95" stroke="#000" stroke-width="1.7"/>
<line x1="199.3" y1="1786.1" x2="212.8" y2="1786.1" stroke="#000" stroke-width="1.7"/>
<text transform="translate(180.8 1786.1) scale(1.03 1) rotate(-90)" font-size="22" text-anchor="middle">−2</text>
<line x1="199.3" y1="1733.1" x2="212.8" y2="1733.1" stroke="#000" stroke-width="1.7"/>
<text transform="translate(180.8 1733.1) scale(1.03 1) rotate(-90)" font-size="22" text-anchor="middle">−1</text>
<line x1="199.3" y1="1680.1" x2="212.8" y2="1680.1" stroke="#000" stroke-width="1.7"/>
<text transform="translate(180.8 1680.1) scale(1.03 1) rotate(-90)" font-size="22" text-anchor="middle">0</text>
<line x1="199.3" y1="1627.1" x2="212.8" y2="1627.1" stroke="#000" stroke-width="1.7"/>
<text transform="translate(180.8 1627.1) scale(1.03 1) rotate(-90)" font-size="22" text-anchor="middle">1</text>
<line x1="199.3" y1="1574.1" x2="212.8" y2="1574.1" stroke="#000" stroke-width="1.7"/>
<text transform="translate(180.8 1574.1) scale(1.03 1) rotate(-90)" font-size="22" text-anchor="middle">2</text>
<line x1="199.3" y1="1521.1" x2="212.8" y2="1521.1" stroke="#000" stroke-width="1.7"/>
<text transform="translate(180.8 1521.1) scale(1.03 1) rotate(-90)" font-size="22" text-anchor="middle">3</text>
<line x1="199.3" y1="1680.25" x2="843.6" y2="1680.25" stroke="#000" stroke-width="1.75"/>
<line x1="220.35" y1="1796.5" x2="821.45" y2="1796.5" stroke="#000" stroke-width="1.7"/>
<line x1="221.2" y1="1796.5" x2="221.2" y2="1810.5" stroke="#000" stroke-width="1.7"/>
<text transform="translate(221.2 1844.4) scale(0.98 1)" font-size="22.3" text-anchor="middle">0</text>
<line x1="371.05" y1="1796.5" x2="371.05" y2="1810.5" stroke="#000" stroke-width="1.7"/>
<text transform="translate(371.05 1844.4) scale(0.98 1)" font-size="22.3" text-anchor="middle">50</text>
<line x1="520.9" y1="1796.5" x2="520.9" y2="1810.5" stroke="#000" stroke-width="1.7"/>
<text transform="translate(520.9 1844.4) scale(0.98 1)" font-size="22.3" text-anchor="middle">100</text>
<line x1="670.75" y1="1796.5" x2="670.75" y2="1810.5" stroke="#000" stroke-width="1.7"/>
<text transform="translate(670.75 1844.4) scale(0.98 1)" font-size="22.3" text-anchor="middle">150</text>
<line x1="820.6" y1="1796.5" x2="820.6" y2="1810.5" stroke="#000" stroke-width="1.7"/>
<text transform="translate(820.6 1844.4) scale(0.98 1)" font-size="22.3" text-anchor="middle">200</text>
<line x1="306.8" y1="1513.6" x2="306.8" y2="1796.5" stroke="#dc1219" stroke-width="1.8" stroke-dasharray="1.9 4.35"/>
<line x1="555.2" y1="1513.6" x2="555.2" y2="1796.5" stroke="#dc1219" stroke-width="1.8" stroke-dasharray="1.9 4.35"/>
<line x1="306.3" y1="1796.5" x2="555.7" y2="1796.5" stroke="#dc1219" stroke-width="3"/>
<line x1="578" y1="1513.6" x2="578" y2="1796.5" stroke="#dc1219" stroke-width="1.8" stroke-dasharray="1.9 4.35"/>
<line x1="744.2" y1="1513.6" x2="744.2" y2="1796.5" stroke="#dc1219" stroke-width="1.8" stroke-dasharray="1.9 4.35"/>
<line x1="577.5" y1="1796.5" x2="744.7" y2="1796.5" stroke="#dc1219" stroke-width="3"/>
<text transform="translate(528 1466.2) scale(1.02 1)" font-size="25.3" text-anchor="middle" font-weight="bold" style="stroke-width:0.4px">Difference curve: L+H* vs. L*+H – North</text>
<text transform="translate(128.2 1653.1) rotate(-90)" font-size="22" text-anchor="middle">Estimated difference in semitones</text>
<text transform="translate(866 1796) rotate(-90)" font-size="16.4" text-anchor="start" fill="#3a3a3a" style="stroke:#3a3a3a;stroke-width:0.2px">difference</text>
<rect x="4.3" y="1507.6" width="65" height="231.8" rx="9" ry="9" fill="#bdbdbd"/>
<text transform="translate(48.4 1624) scale(1.08 1) rotate(-90)" font-size="32.3" text-anchor="middle" style="stroke-width:0.7px">L+H* vs. L*+H</text>
<rect x="1020.9" y="1506.8" width="140" height="275.2" rx="17" ry="17" fill="#f0f0f0"/>
<rect x="1165.3" y="1509.4" width="147.5" height="274.9" rx="17" ry="17" fill="#f0f0f0"/>
<rect x="1316.5" y="1509.4" width="149.1" height="274.9" rx="17" ry="17" fill="#f0f0f0"/>
<rect x="1470.1" y="1509.4" width="147.2" height="274.9" rx="17" ry="17" fill="#f0f0f0"/>
<text x="1043.3" y="1542.6" font-size="21.5" text-anchor="start" style="stroke-width:0.1px">n <tspan dx="0.2" font-size="16">(from <tspan font-style="italic">denn</tspan>)</tspan></text>
<text transform="translate(1194.4 1542.6)" font-size="22" text-anchor="start" style="stroke-width:0.1px">syllable 1</text>
<text transform="translate(1351.2 1542.6)" font-size="22" text-anchor="start" style="stroke-width:0.1px">syllable 2</text>
<text transform="translate(1499 1542.6)" font-size="22" text-anchor="start" style="stroke-width:0.1px">syllable 3</text>
<polygon points="1031.6,1654 1035.27,1654 1038.95,1654 1042.62,1653.99 1046.3,1653.97 1049.97,1653.94 1053.65,1653.9 1057.32,1653.84 1060.99,1653.77 1064.67,1653.68 1068.34,1653.57 1072.02,1653.44 1075.69,1653.26 1079.36,1653.03 1083.04,1652.76 1086.71,1652.46 1090.39,1652.15 1094.06,1651.84 1097.74,1651.54 1101.41,1651.22 1105.08,1650.9 1108.76,1650.58 1112.43,1650.28 1116.11,1650.01 1119.78,1649.78 1123.46,1649.59 1127.13,1649.45 1130.8,1649.34 1134.48,1649.24 1138.15,1649.16 1141.83,1649.07 1145.5,1648.98 1149.17,1648.87 1152.85,1648.73 1156.52,1648.56 1160.2,1648.34 1163.87,1648.05 1167.55,1647.68 1171.22,1647.22 1174.89,1646.69 1178.57,1646.08 1182.24,1645.38 1185.92,1644.53 1189.59,1643.52 1193.27,1642.34 1196.94,1640.98 1200.61,1639.39 1204.29,1637.52 1207.96,1635.4 1211.64,1633.08 1215.31,1630.62 1218.98,1627.98 1222.66,1625.11 1226.33,1622.09 1230.01,1618.96 1233.68,1615.78 1237.36,1612.56 1241.03,1609.19 1244.7,1605.81 1248.38,1602.61 1252.05,1599.75 1255.73,1597.32 1259.4,1595.08 1263.08,1593.2 1266.75,1591.85 1270.42,1591.22 1274.1,1591.48 1277.77,1592.59 1281.45,1594.41 1285.12,1596.82 1288.79,1599.92 1292.47,1604.19 1296.14,1609.39 1299.82,1615.21 1303.49,1621.5 1307.17,1628.53 1310.84,1635.72 1314.51,1642.36 1318.19,1647.74 1321.86,1652.31 1325.54,1657.91 1329.21,1664.06 1332.89,1669.8 1336.56,1674.81 1340.23,1679.33 1343.91,1683.56 1347.58,1687.62 1351.26,1691.55 1354.93,1695.33 1358.61,1698.99 1362.28,1702.5 1365.95,1705.89 1369.63,1709.16 1373.3,1712.33 1376.98,1715.36 1380.65,1718.34 1384.32,1721.38 1388,1724.6 1391.67,1728.1 1395.35,1731.81 1399.02,1735.59 1402.7,1739.31 1406.37,1742.9 1410.04,1746.41 1413.72,1749.78 1417.39,1752.91 1421.07,1755.82 1424.74,1758.55 1428.42,1760.87 1432.09,1762.54 1435.76,1763.74 1439.44,1764.42 1443.11,1764.37 1446.79,1763.46 1450.46,1761.92 1454.13,1759.78 1457.81,1756.75 1461.48,1753.04 1465.16,1748.87 1468.83,1744.06 1472.51,1738.74 1476.18,1733.19 1479.85,1727.74 1483.53,1722.36 1487.2,1717.03 1490.88,1711.9 1494.55,1707.09 1498.23,1702.6 1501.9,1698.41 1505.57,1694.61 1509.25,1691.28 1512.92,1688.31 1516.6,1685.66 1520.27,1683.31 1523.94,1681.21 1527.62,1679.29 1531.29,1677.57 1534.97,1676.07 1538.64,1674.84 1542.32,1673.74 1545.99,1672.78 1549.66,1672 1553.34,1671.48 1557.01,1671.24 1560.69,1671.12 1564.36,1671.07 1568.04,1671.09 1571.71,1671.16 1575.38,1671.28 1579.06,1671.5 1582.73,1671.86 1586.41,1672.28 1590.08,1672.68 1593.75,1672.99 1597.43,1673.12 1601.1,1673.16 1604.78,1673.14 1608.45,1673.07 1612.13,1672.95 1615.8,1672.8 1615.8,1699.8 1612.13,1699.95 1608.45,1700.07 1604.78,1700.14 1601.1,1700.16 1597.43,1700.12 1593.75,1699.99 1590.08,1699.68 1586.41,1699.28 1582.73,1698.86 1579.06,1698.5 1575.38,1698.28 1571.71,1698.16 1568.04,1698.09 1564.36,1698.07 1560.69,1698.12 1557.01,1698.24 1553.34,1698.48 1549.66,1699 1545.99,1699.78 1542.32,1700.74 1538.64,1701.84 1534.97,1703.07 1531.29,1704.57 1527.62,1706.29 1523.94,1708.21 1520.27,1710.31 1516.6,1712.66 1512.92,1715.31 1509.25,1718.28 1505.57,1721.61 1501.9,1725.41 1498.23,1729.6 1494.55,1734.09 1490.88,1738.9 1487.2,1744.03 1483.53,1749.36 1479.85,1754.74 1476.18,1760.19 1472.51,1765.74 1468.83,1771.06 1465.16,1775.87 1461.48,1780.04 1457.81,1783.75 1454.13,1786.78 1450.46,1788.92 1446.79,1790.46 1443.11,1791.37 1439.44,1791.42 1435.76,1790.74 1432.09,1789.54 1428.42,1787.87 1424.74,1785.55 1421.07,1782.82 1417.39,1779.91 1413.72,1776.78 1410.04,1773.41 1406.37,1769.9 1402.7,1766.31 1399.02,1762.59 1395.35,1758.81 1391.67,1755.1 1388,1751.6 1384.32,1748.38 1380.65,1745.34 1376.98,1742.36 1373.3,1739.33 1369.63,1736.16 1365.95,1732.89 1362.28,1729.5 1358.61,1725.99 1354.93,1722.33 1351.26,1718.55 1347.58,1714.62 1343.91,1710.56 1340.23,1706.33 1336.56,1701.81 1332.89,1696.8 1329.21,1691.06 1325.54,1684.91 1321.86,1679.31 1318.19,1674.74 1314.51,1669.36 1310.84,1662.72 1307.17,1655.53 1303.49,1648.5 1299.82,1642.21 1296.14,1636.39 1292.47,1631.19 1288.79,1626.92 1285.12,1623.82 1281.45,1621.41 1277.77,1619.59 1274.1,1618.48 1270.42,1618.22 1266.75,1618.85 1263.08,1620.2 1259.4,1622.08 1255.73,1624.32 1252.05,1626.75 1248.38,1629.61 1244.7,1632.81 1241.03,1636.19 1237.36,1639.56 1233.68,1642.78 1230.01,1645.96 1226.33,1649.09 1222.66,1652.11 1218.98,1654.98 1215.31,1657.62 1211.64,1660.08 1207.96,1662.4 1204.29,1664.52 1200.61,1666.39 1196.94,1667.98 1193.27,1669.34 1189.59,1670.52 1185.92,1671.53 1182.24,1672.38 1178.57,1673.08 1174.89,1673.69 1171.22,1674.22 1167.55,1674.68 1163.87,1675.05 1160.2,1675.34 1156.52,1675.56 1152.85,1675.73 1149.17,1675.87 1145.5,1675.98 1141.83,1676.07 1138.15,1676.16 1134.48,1676.24 1130.8,1676.34 1127.13,1676.45 1123.46,1676.59 1119.78,1676.78 1116.11,1677.01 1112.43,1677.28 1108.76,1677.58 1105.08,1677.9 1101.41,1678.22 1097.74,1678.54 1094.06,1678.84 1090.39,1679.15 1086.71,1679.46 1083.04,1679.76 1079.36,1680.03 1075.69,1680.26 1072.02,1680.44 1068.34,1680.57 1064.67,1680.68 1060.99,1680.77 1057.32,1680.84 1053.65,1680.9 1049.97,1680.94 1046.3,1680.97 1042.62,1680.99 1038.95,1681 1035.27,1681 1031.6,1681" fill="#000" fill-opacity="0.25"/>
<polyline points="1031.6,1667.5 1035.27,1667.5 1038.95,1667.5 1042.62,1667.49 1046.3,1667.47 1049.97,1667.44 1053.65,1667.4 1057.32,1667.34 1060.99,1667.27 1064.67,1667.18 1068.34,1667.07 1072.02,1666.94 1075.69,1666.76 1079.36,1666.53 1083.04,1666.26 1086.71,1665.96 1090.39,1665.65 1094.06,1665.34 1097.74,1665.04 1101.41,1664.72 1105.08,1664.4 1108.76,1664.08 1112.43,1663.78 1116.11,1663.51 1119.78,1663.28 1123.46,1663.09 1127.13,1662.95 1130.8,1662.84 1134.48,1662.74 1138.15,1662.66 1141.83,1662.57 1145.5,1662.48 1149.17,1662.37 1152.85,1662.23 1156.52,1662.06 1160.2,1661.84 1163.87,1661.55 1167.55,1661.18 1171.22,1660.72 1174.89,1660.19 1178.57,1659.58 1182.24,1658.88 1185.92,1658.03 1189.59,1657.02 1193.27,1655.84 1196.94,1654.48 1200.61,1652.89 1204.29,1651.02 1207.96,1648.9 1211.64,1646.58 1215.31,1644.12 1218.98,1641.48 1222.66,1638.61 1226.33,1635.59 1230.01,1632.46 1233.68,1629.28 1237.36,1626.06 1241.03,1622.69 1244.7,1619.31 1248.38,1616.11 1252.05,1613.25 1255.73,1610.82 1259.4,1608.58 1263.08,1606.7 1266.75,1605.35 1270.42,1604.72 1274.1,1604.98 1277.77,1606.09 1281.45,1607.91 1285.12,1610.32 1288.79,1613.42 1292.47,1617.69 1296.14,1622.89 1299.82,1628.71 1303.49,1635 1307.17,1642.03 1310.84,1649.22 1314.51,1655.86 1318.19,1661.24 1321.86,1665.81 1325.54,1671.41 1329.21,1677.56 1332.89,1683.3 1336.56,1688.31 1340.23,1692.83 1343.91,1697.06 1347.58,1701.12 1351.26,1705.05 1354.93,1708.83 1358.61,1712.49 1362.28,1716 1365.95,1719.39 1369.63,1722.66 1373.3,1725.83 1376.98,1728.86 1380.65,1731.84 1384.32,1734.88 1388,1738.1 1391.67,1741.6 1395.35,1745.31 1399.02,1749.09 1402.7,1752.81 1406.37,1756.4 1410.04,1759.91 1413.72,1763.28 1417.39,1766.41 1421.07,1769.32 1424.74,1772.05 1428.42,1774.37 1432.09,1776.04 1435.76,1777.24 1439.44,1777.92 1443.11,1777.87 1446.79,1776.96 1450.46,1775.42 1454.13,1773.28 1457.81,1770.25 1461.48,1766.54 1465.16,1762.37 1468.83,1757.56 1472.51,1752.24 1476.18,1746.69 1479.85,1741.24 1483.53,1735.86 1487.2,1730.53 1490.88,1725.4 1494.55,1720.59 1498.23,1716.1 1501.9,1711.91 1505.57,1708.11 1509.25,1704.78 1512.92,1701.81 1516.6,1699.16 1520.27,1696.81 1523.94,1694.71 1527.62,1692.79 1531.29,1691.07 1534.97,1689.57 1538.64,1688.34 1542.32,1687.24 1545.99,1686.28 1549.66,1685.5 1553.34,1684.98 1557.01,1684.74 1560.69,1684.62 1564.36,1684.57 1568.04,1684.59 1571.71,1684.66 1575.38,1684.78 1579.06,1685 1582.73,1685.36 1586.41,1685.78 1590.08,1686.18 1593.75,1686.49 1597.43,1686.62 1601.1,1686.66 1604.78,1686.64 1608.45,1686.57 1612.13,1686.45 1615.8,1686.3" fill="none" stroke="#000" stroke-width="1.6" stroke-linejoin="round"/>
<line x1="1008.2" y1="1520.25" x2="1008.2" y2="1786.95" stroke="#000" stroke-width="1.7"/>
<line x1="994.7" y1="1786.1" x2="1008.2" y2="1786.1" stroke="#000" stroke-width="1.7"/>
<text transform="translate(976 1786.1) scale(1.03 1) rotate(-90)" font-size="22" text-anchor="middle">−2</text>
<line x1="994.7" y1="1733.1" x2="1008.2" y2="1733.1" stroke="#000" stroke-width="1.7"/>
<text transform="translate(976 1733.1) scale(1.03 1) rotate(-90)" font-size="22" text-anchor="middle">−1</text>
<line x1="994.7" y1="1680.1" x2="1008.2" y2="1680.1" stroke="#000" stroke-width="1.7"/>
<text transform="translate(976 1680.1) scale(1.03 1) rotate(-90)" font-size="22" text-anchor="middle">0</text>
<line x1="994.7" y1="1627.1" x2="1008.2" y2="1627.1" stroke="#000" stroke-width="1.7"/>
<text transform="translate(976 1627.1) scale(1.03 1) rotate(-90)" font-size="22" text-anchor="middle">1</text>
<line x1="994.7" y1="1574.1" x2="1008.2" y2="1574.1" stroke="#000" stroke-width="1.7"/>
<text transform="translate(976 1574.1) scale(1.03 1) rotate(-90)" font-size="22" text-anchor="middle">2</text>
<line x1="994.7" y1="1521.1" x2="1008.2" y2="1521.1" stroke="#000" stroke-width="1.7"/>
<text transform="translate(976 1521.1) scale(1.03 1) rotate(-90)" font-size="22" text-anchor="middle">3</text>
<line x1="994.7" y1="1680.25" x2="1638.9" y2="1680.25" stroke="#000" stroke-width="1.75"/>
<line x1="1015.55" y1="1796.5" x2="1616.65" y2="1796.5" stroke="#000" stroke-width="1.7"/>
<line x1="1016.4" y1="1796.5" x2="1016.4" y2="1810.5" stroke="#000" stroke-width="1.7"/>
<text transform="translate(1016.4 1844.4) scale(0.98 1)" font-size="22.3" text-anchor="middle">0</text>
<line x1="1166.25" y1="1796.5" x2="1166.25" y2="1810.5" stroke="#000" stroke-width="1.7"/>
<text transform="translate(1166.25 1844.4) scale(0.98 1)" font-size="22.3" text-anchor="middle">50</text>
<line x1="1316.1" y1="1796.5" x2="1316.1" y2="1810.5" stroke="#000" stroke-width="1.7"/>
<text transform="translate(1316.1 1844.4) scale(0.98 1)" font-size="22.3" text-anchor="middle">100</text>
<line x1="1465.95" y1="1796.5" x2="1465.95" y2="1810.5" stroke="#000" stroke-width="1.7"/>
<text transform="translate(1465.95 1844.4) scale(0.98 1)" font-size="22.3" text-anchor="middle">150</text>
<line x1="1615.8" y1="1796.5" x2="1615.8" y2="1810.5" stroke="#000" stroke-width="1.7"/>
<text transform="translate(1615.8 1844.4) scale(0.98 1)" font-size="22.3" text-anchor="middle">200</text>
<line x1="1084.4" y1="1513.6" x2="1084.4" y2="1796.5" stroke="#dc1219" stroke-width="1.8" stroke-dasharray="1.9 4.35"/>
<line x1="1321.1" y1="1513.6" x2="1321.1" y2="1796.5" stroke="#dc1219" stroke-width="1.8" stroke-dasharray="1.9 4.35"/>
<line x1="1083.9" y1="1796.5" x2="1321.6" y2="1796.5" stroke="#dc1219" stroke-width="3"/>
<line x1="1344.1" y1="1513.6" x2="1344.1" y2="1796.5" stroke="#dc1219" stroke-width="1.8" stroke-dasharray="1.9 4.35"/>
<line x1="1521.6" y1="1513.6" x2="1521.6" y2="1796.5" stroke="#dc1219" stroke-width="1.8" stroke-dasharray="1.9 4.35"/>
<line x1="1343.6" y1="1796.5" x2="1522.1" y2="1796.5" stroke="#dc1219" stroke-width="3"/>
<text transform="translate(1323.2 1466.2) scale(1.02 1)" font-size="25.3" text-anchor="middle" font-weight="bold" style="stroke-width:0.4px">Difference curve: L+H* vs. L*+H – South</text>
<text transform="translate(923.2 1653.1) rotate(-90)" font-size="22" text-anchor="middle">Estimated difference in semitones</text>
<text transform="translate(1661.3 1796) rotate(-90)" font-size="16.4" text-anchor="start" fill="#3a3a3a" style="stroke:#3a3a3a;stroke-width:0.2px">difference</text>
<rect x="1701.9" y="1511.9" width="65.2" height="231.3" rx="9" ry="9" fill="#bdbdbd"/>
<text transform="translate(1746.1 1628.05) scale(1.08 1) rotate(-90)" font-size="32.3" text-anchor="middle" style="stroke-width:0.7px">L+H* vs. L*+H</text>
<text transform="translate(527.8 1896.9)" font-size="22" text-anchor="middle">Normtime</text>
<text transform="translate(1323.4 1896.9)" font-size="22" text-anchor="middle">Normtime</text>
</svg>
</body></html>
